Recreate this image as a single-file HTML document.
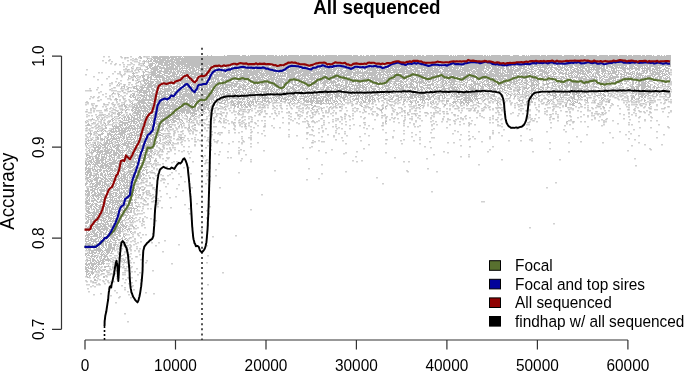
<!DOCTYPE html><html><head><meta charset="utf-8"><style>html,body{margin:0;padding:0;background:#fff}svg{display:block;will-change:transform}</style></head><body><svg width="685" height="371" viewBox="0 0 685 371"><rect width="685" height="371" fill="#fff"/><path transform="translate(0,0.5)" d="M207 55h1M211 55h1M224 55h1M227 55h13M242 55h4M248 55h1M250 55h16M267 55h7M275 55h2M279 55h1M281 55h2M284 55h3M288 55h11M300 55h12M313 55h4M318 55h3M322 55h2M325 55h12M338 55h14M353 55h5M360 55h2M363 55h1M366 55h3M370 55h5M376 55h17M394 55h1M396 55h8M405 55h8M414 55h2M417 55h4M422 55h2M426 55h7M434 55h15M450 55h2M453 55h1M455 55h1M457 55h7M465 55h18M484 55h2M487 55h1M489 55h1M491 55h10M502 55h8M513 55h6M522 55h3M526 55h1M528 55h1M530 55h10M541 55h5M547 55h15M564 55h10M575 55h4M580 55h4M586 55h11M599 55h9M609 55h9M619 55h8M628 55h4M633 55h8M642 55h3M646 55h6M653 55h1M657 55h3M661 55h1M664 55h1M666 55h5M139 56h2M153 56h5M159 56h10M170 56h12M183 56h488M125 57h1M140 57h2M152 57h25M178 57h3M182 57h1M184 57h487M140 58h2M147 58h2M151 58h1M153 58h8M162 58h8M171 58h3M175 58h496M147 59h1M151 59h2M154 59h2M157 59h9M167 59h2M170 59h501M146 60h1M148 60h1M150 60h2M153 60h5M159 60h14M174 60h6M181 60h490M144 61h2M148 61h4M153 61h11M165 61h10M176 61h495M144 62h1M148 62h1M152 62h1M155 62h15M171 62h500M143 63h2M150 63h5M156 63h1M158 63h5M164 63h4M169 63h5M175 63h11M187 63h484M143 64h1M149 64h4M155 64h1M158 64h5M164 64h11M176 64h495M144 65h1M148 65h5M155 65h1M157 65h2M161 65h9M171 65h5M177 65h3M181 65h2M184 65h24M209 65h3M213 65h8M222 65h1M224 65h1M226 65h45M272 65h27M300 65h13M315 65h13M329 65h23M353 65h30M384 65h23M408 65h30M439 65h8M448 65h4M453 65h56M510 65h15M526 65h7M534 65h19M554 65h2M557 65h3M562 65h1M564 65h9M574 65h10M585 65h20M606 65h5M612 65h15M629 65h5M635 65h13M649 65h22M147 66h1M149 66h3M154 66h7M163 66h1M166 66h2M169 66h5M175 66h6M182 66h8M191 66h9M201 66h8M210 66h12M223 66h6M230 66h1M232 66h1M234 66h12M247 66h22M271 66h11M283 66h12M296 66h20M317 66h6M324 66h37M362 66h22M385 66h1M387 66h21M409 66h7M417 66h23M441 66h1M445 66h8M454 66h8M464 66h21M486 66h4M491 66h14M506 66h6M513 66h3M518 66h9M528 66h1M530 66h8M539 66h2M542 66h6M549 66h1M551 66h2M557 66h4M562 66h1M564 66h4M569 66h4M575 66h4M580 66h10M592 66h8M601 66h4M606 66h7M614 66h4M619 66h1M621 66h3M625 66h2M629 66h6M637 66h6M644 66h1M646 66h2M649 66h9M659 66h1M662 66h2M665 66h1M668 66h3M131 67h1M146 67h2M149 67h2M152 67h6M159 67h6M166 67h8M175 67h3M179 67h1M181 67h2M184 67h1M186 67h8M195 67h5M201 67h3M206 67h13M220 67h4M226 67h4M231 67h3M235 67h4M240 67h5M246 67h7M254 67h46M301 67h7M310 67h2M313 67h3M318 67h3M322 67h7M330 67h1M332 67h3M336 67h21M358 67h6M365 67h5M371 67h1M373 67h8M382 67h7M390 67h3M394 67h6M401 67h10M412 67h21M434 67h2M437 67h22M460 67h25M486 67h5M492 67h5M498 67h6M506 67h3M510 67h4M515 67h3M519 67h3M523 67h4M528 67h1M530 67h4M537 67h10M548 67h9M558 67h7M566 67h1M568 67h6M577 67h8M587 67h15M603 67h2M606 67h2M609 67h5M615 67h11M627 67h1M629 67h4M634 67h3M638 67h3M642 67h1M644 67h2M647 67h4M654 67h8M665 67h3M136 68h1M140 68h1M147 68h2M150 68h8M159 68h19M179 68h9M189 68h6M196 68h1M198 68h17M216 68h4M221 68h2M224 68h22M247 68h17M265 68h10M276 68h10M287 68h2M290 68h10M301 68h8M310 68h8M319 68h13M333 68h15M349 68h9M359 68h5M365 68h16M383 68h4M388 68h6M395 68h2M398 68h1M400 68h7M408 68h4M414 68h9M424 68h14M439 68h4M444 68h8M453 68h6M460 68h1M462 68h7M470 68h7M478 68h9M488 68h3M492 68h7M500 68h5M506 68h3M510 68h2M513 68h2M517 68h8M527 68h3M531 68h2M534 68h1M536 68h1M538 68h1M540 68h1M544 68h5M550 68h2M554 68h4M560 68h3M564 68h2M567 68h1M570 68h2M574 68h4M579 68h2M582 68h5M588 68h2M591 68h1M593 68h2M596 68h9M606 68h2M611 68h6M618 68h1M620 68h20M641 68h10M652 68h2M655 68h6M664 68h1M666 68h4M139 69h2M146 69h2M151 69h8M161 69h1M164 69h14M179 69h2M182 69h1M186 69h1M188 69h3M192 69h3M196 69h3M200 69h4M205 69h2M208 69h3M212 69h3M216 69h7M224 69h13M238 69h4M244 69h5M250 69h5M256 69h11M268 69h8M277 69h7M285 69h14M300 69h3M304 69h16M321 69h4M326 69h11M338 69h1M340 69h3M346 69h5M352 69h7M361 69h2M364 69h2M367 69h9M377 69h1M379 69h12M392 69h16M410 69h8M421 69h5M427 69h6M434 69h6M442 69h6M449 69h7M457 69h1M459 69h14M475 69h9M486 69h3M491 69h10M502 69h2M506 69h8M515 69h6M523 69h4M529 69h5M537 69h6M544 69h2M547 69h1M550 69h3M555 69h7M564 69h5M570 69h1M572 69h3M576 69h3M580 69h3M585 69h2M588 69h12M601 69h5M611 69h1M613 69h2M616 69h1M622 69h4M627 69h3M631 69h2M635 69h5M642 69h1M644 69h1M646 69h5M652 69h6M659 69h1M662 69h4M668 69h1M127 70h1M138 70h1M145 70h1M153 70h5M159 70h3M164 70h5M170 70h2M173 70h1M175 70h1M177 70h3M181 70h7M189 70h2M192 70h5M198 70h16M215 70h9M225 70h6M232 70h20M253 70h10M264 70h9M274 70h23M298 70h19M318 70h1M320 70h3M324 70h8M333 70h3M337 70h5M345 70h7M353 70h3M357 70h2M360 70h1M362 70h1M366 70h19M386 70h19M406 70h8M415 70h5M421 70h18M440 70h1M443 70h18M462 70h10M473 70h2M476 70h8M485 70h1M487 70h2M490 70h3M494 70h7M502 70h4M507 70h14M525 70h4M531 70h1M534 70h3M539 70h6M546 70h1M548 70h2M551 70h1M556 70h1M558 70h2M561 70h3M565 70h4M570 70h2M573 70h3M577 70h7M585 70h5M591 70h1M593 70h1M595 70h4M601 70h7M611 70h4M616 70h4M621 70h1M623 70h3M629 70h2M635 70h2M638 70h2M642 70h6M649 70h4M654 70h1M656 70h6M663 70h1M665 70h4M132 71h1M143 71h1M145 71h2M151 71h5M157 71h15M173 71h2M176 71h6M183 71h1M185 71h4M190 71h6M198 71h1M200 71h16M217 71h5M223 71h1M226 71h5M232 71h2M235 71h4M240 71h20M261 71h2M264 71h20M286 71h8M295 71h20M316 71h19M337 71h2M340 71h3M345 71h8M355 71h6M362 71h1M364 71h4M369 71h1M372 71h5M379 71h1M381 71h10M393 71h5M399 71h13M413 71h7M421 71h1M424 71h1M426 71h5M432 71h9M442 71h21M464 71h6M471 71h11M483 71h4M489 71h10M500 71h1M502 71h1M504 71h2M507 71h6M514 71h5M520 71h1M522 71h1M524 71h3M529 71h5M535 71h1M538 71h9M548 71h1M550 71h1M554 71h1M557 71h2M560 71h1M563 71h1M566 71h1M569 71h1M571 71h8M580 71h5M586 71h5M592 71h1M596 71h4M601 71h5M607 71h4M612 71h5M618 71h1M622 71h1M624 71h2M629 71h1M632 71h3M637 71h1M642 71h3M646 71h2M649 71h2M652 71h4M657 71h1M659 71h5M665 71h4M133 72h1M143 72h2M150 72h6M157 72h4M163 72h5M169 72h7M177 72h2M180 72h14M195 72h4M201 72h4M206 72h1M208 72h14M223 72h3M227 72h10M238 72h2M241 72h1M243 72h19M263 72h1M265 72h9M275 72h2M278 72h8M287 72h15M303 72h8M313 72h12M326 72h8M336 72h4M341 72h5M347 72h37M385 72h20M406 72h7M414 72h2M417 72h26M444 72h2M447 72h2M451 72h9M461 72h5M467 72h1M469 72h2M472 72h4M477 72h6M484 72h2M488 72h4M494 72h7M502 72h2M505 72h8M514 72h2M519 72h1M521 72h9M531 72h2M534 72h1M537 72h2M542 72h8M553 72h3M558 72h5M565 72h2M568 72h1M570 72h4M575 72h6M582 72h2M585 72h1M587 72h5M596 72h4M602 72h2M605 72h1M608 72h1M610 72h1M612 72h5M618 72h2M623 72h6M630 72h3M634 72h1M636 72h2M639 72h1M643 72h2M646 72h2M650 72h1M652 72h9M662 72h1M665 72h1M668 72h2M132 73h3M143 73h1M151 73h6M159 73h3M164 73h7M172 73h4M177 73h2M180 73h1M182 73h28M211 73h1M213 73h1M216 73h2M219 73h6M226 73h4M231 73h4M236 73h2M240 73h8M249 73h9M259 73h20M280 73h10M291 73h10M302 73h33M336 73h3M340 73h5M346 73h6M353 73h24M378 73h3M383 73h2M386 73h2M389 73h1M391 73h1M394 73h1M396 73h3M402 73h12M415 73h1M417 73h3M422 73h1M424 73h10M435 73h3M440 73h8M449 73h17M467 73h3M471 73h17M489 73h5M495 73h10M507 73h1M509 73h8M518 73h13M532 73h4M538 73h1M540 73h3M544 73h5M552 73h2M555 73h2M559 73h8M568 73h5M574 73h1M577 73h9M587 73h2M591 73h1M593 73h1M595 73h4M601 73h2M604 73h2M608 73h8M618 73h1M620 73h2M624 73h1M626 73h5M632 73h3M636 73h8M645 73h2M650 73h4M655 73h5M661 73h4M666 73h1M668 73h2M133 74h1M143 74h1M147 74h1M150 74h6M157 74h3M162 74h3M168 74h2M172 74h6M179 74h1M181 74h2M184 74h1M186 74h4M191 74h11M203 74h5M209 74h3M213 74h15M229 74h3M234 74h1M236 74h6M243 74h16M260 74h5M266 74h10M277 74h2M280 74h1M282 74h1M284 74h2M287 74h9M298 74h1M300 74h9M310 74h13M325 74h5M331 74h2M334 74h3M338 74h4M343 74h9M353 74h3M357 74h2M362 74h3M366 74h1M368 74h8M377 74h9M387 74h4M392 74h5M398 74h1M400 74h5M408 74h5M415 74h13M429 74h6M436 74h2M439 74h1M442 74h33M476 74h9M486 74h13M500 74h3M504 74h10M516 74h1M519 74h2M522 74h3M526 74h2M530 74h3M534 74h2M539 74h4M544 74h1M546 74h2M553 74h3M559 74h1M562 74h2M565 74h4M571 74h1M573 74h1M575 74h1M577 74h2M580 74h1M582 74h5M592 74h2M595 74h1M597 74h3M602 74h1M604 74h1M608 74h2M611 74h1M615 74h4M620 74h5M626 74h1M628 74h5M634 74h1M636 74h6M651 74h10M662 74h1M664 74h4M669 74h1M134 75h1M141 75h4M148 75h1M151 75h12M164 75h4M170 75h5M176 75h1M179 75h5M186 75h2M190 75h2M194 75h4M200 75h6M207 75h6M214 75h13M228 75h1M230 75h9M240 75h14M255 75h3M259 75h9M269 75h7M277 75h9M287 75h8M297 75h19M317 75h2M320 75h6M327 75h9M338 75h13M353 75h5M359 75h7M367 75h11M379 75h3M383 75h1M385 75h4M390 75h6M397 75h1M399 75h5M405 75h2M408 75h6M416 75h1M419 75h12M432 75h7M440 75h12M453 75h14M468 75h2M471 75h5M477 75h35M513 75h5M521 75h7M530 75h1M532 75h3M536 75h7M545 75h1M547 75h4M553 75h1M565 75h1M568 75h5M574 75h1M576 75h2M579 75h1M584 75h1M586 75h2M589 75h1M592 75h2M595 75h1M598 75h3M603 75h3M610 75h3M616 75h2M621 75h1M624 75h3M631 75h1M633 75h1M635 75h2M638 75h6M645 75h1M647 75h6M654 75h2M658 75h2M662 75h4M668 75h1M129 76h1M133 76h3M140 76h1M142 76h3M147 76h2M150 76h2M153 76h1M155 76h9M166 76h14M182 76h14M198 76h10M209 76h4M214 76h16M231 76h4M236 76h2M239 76h11M252 76h3M256 76h4M261 76h3M265 76h2M268 76h4M273 76h2M276 76h10M287 76h8M296 76h5M302 76h4M307 76h2M310 76h3M314 76h1M316 76h1M318 76h5M324 76h7M332 76h3M336 76h1M338 76h3M343 76h2M346 76h1M350 76h4M355 76h1M357 76h2M360 76h4M365 76h1M367 76h2M371 76h2M374 76h4M379 76h2M382 76h2M387 76h5M393 76h7M401 76h6M408 76h1M410 76h3M416 76h8M425 76h3M429 76h12M442 76h3M446 76h2M449 76h7M457 76h4M463 76h3M467 76h1M470 76h2M473 76h1M475 76h1M478 76h34M513 76h1M515 76h7M525 76h2M528 76h1M530 76h3M534 76h2M537 76h2M541 76h8M550 76h7M560 76h4M565 76h2M568 76h2M571 76h2M574 76h4M579 76h1M581 76h5M587 76h2M590 76h7M599 76h1M601 76h4M606 76h1M609 76h2M612 76h7M620 76h5M627 76h5M633 76h2M636 76h3M640 76h1M642 76h1M644 76h7M652 76h3M657 76h6M666 76h2M669 76h1M128 77h1M135 77h1M142 77h2M147 77h5M154 77h11M166 77h4M171 77h1M173 77h2M176 77h5M182 77h2M185 77h1M187 77h23M211 77h6M218 77h1M222 77h16M239 77h4M244 77h6M251 77h14M267 77h2M270 77h8M279 77h1M281 77h1M286 77h11M298 77h2M301 77h2M304 77h2M308 77h8M317 77h2M320 77h1M322 77h1M324 77h2M327 77h10M338 77h6M345 77h2M348 77h8M358 77h3M362 77h3M366 77h12M379 77h2M382 77h7M391 77h1M393 77h8M403 77h2M408 77h1M411 77h3M416 77h6M423 77h4M428 77h5M434 77h5M440 77h3M444 77h1M446 77h3M451 77h4M456 77h2M460 77h27M488 77h4M493 77h1M495 77h1M497 77h4M502 77h2M507 77h6M514 77h7M523 77h1M528 77h2M531 77h6M542 77h3M546 77h3M551 77h2M554 77h1M556 77h1M559 77h1M561 77h4M566 77h1M569 77h14M585 77h2M588 77h2M591 77h1M594 77h4M599 77h3M604 77h4M609 77h10M620 77h2M623 77h6M630 77h4M635 77h6M642 77h4M647 77h1M649 77h2M653 77h1M655 77h3M659 77h3M663 77h1M665 77h1M667 77h3M128 78h1M136 78h1M143 78h2M147 78h2M150 78h2M156 78h1M159 78h1M162 78h5M168 78h3M172 78h1M174 78h8M183 78h5M189 78h6M196 78h13M210 78h9M221 78h2M224 78h1M226 78h1M228 78h5M234 78h4M240 78h6M247 78h2M250 78h6M257 78h4M262 78h1M264 78h3M268 78h7M276 78h9M286 78h2M289 78h3M293 78h15M309 78h11M321 78h2M324 78h2M327 78h14M343 78h7M351 78h2M354 78h1M356 78h1M358 78h1M360 78h9M370 78h15M386 78h8M395 78h12M408 78h3M412 78h1M414 78h2M417 78h1M419 78h8M428 78h4M433 78h1M436 78h1M438 78h1M440 78h5M446 78h5M452 78h7M460 78h9M470 78h1M472 78h2M476 78h4M482 78h4M488 78h2M491 78h6M498 78h8M507 78h4M514 78h1M519 78h1M521 78h6M529 78h1M531 78h5M542 78h2M547 78h1M551 78h1M553 78h9M563 78h5M570 78h1M572 78h1M576 78h1M578 78h9M589 78h6M596 78h1M599 78h2M602 78h2M608 78h8M620 78h3M626 78h1M630 78h3M634 78h18M653 78h1M655 78h3M659 78h3M664 78h4M669 78h2M132 79h2M137 79h1M143 79h5M150 79h8M159 79h2M162 79h3M166 79h20M187 79h1M189 79h1M191 79h3M196 79h2M199 79h2M202 79h2M205 79h1M207 79h7M215 79h4M220 79h4M225 79h5M231 79h6M238 79h6M245 79h2M248 79h3M253 79h11M266 79h11M278 79h13M292 79h1M294 79h1M296 79h7M304 79h1M306 79h9M316 79h9M326 79h1M328 79h4M335 79h4M340 79h2M343 79h4M348 79h21M370 79h1M372 79h11M384 79h3M388 79h1M390 79h10M402 79h3M406 79h3M410 79h6M417 79h1M419 79h4M425 79h2M428 79h6M435 79h2M438 79h1M440 79h4M446 79h1M448 79h7M457 79h1M460 79h1M462 79h6M469 79h3M473 79h1M476 79h3M482 79h2M486 79h3M492 79h11M504 79h3M508 79h4M513 79h4M518 79h3M522 79h1M525 79h2M529 79h3M533 79h3M537 79h1M541 79h2M544 79h1M547 79h1M553 79h4M560 79h3M566 79h2M571 79h1M573 79h2M578 79h4M583 79h11M596 79h2M599 79h1M601 79h2M604 79h8M613 79h1M615 79h1M617 79h5M624 79h2M627 79h1M629 79h1M631 79h1M633 79h4M638 79h1M640 79h4M646 79h5M653 79h2M657 79h3M665 79h2M669 79h2M132 80h2M137 80h1M143 80h6M150 80h1M154 80h1M157 80h2M160 80h1M162 80h7M170 80h5M176 80h18M195 80h9M205 80h3M209 80h1M211 80h1M213 80h1M215 80h1M217 80h3M221 80h8M230 80h2M234 80h1M238 80h7M248 80h10M259 80h11M271 80h3M275 80h8M284 80h5M290 80h3M294 80h3M298 80h1M300 80h2M303 80h6M311 80h2M314 80h4M320 80h3M324 80h4M329 80h3M333 80h2M337 80h4M342 80h16M359 80h5M365 80h4M370 80h4M375 80h17M395 80h4M400 80h2M403 80h1M406 80h2M410 80h4M416 80h2M419 80h1M421 80h3M425 80h4M430 80h1M432 80h4M438 80h3M442 80h4M447 80h1M449 80h7M459 80h2M462 80h2M465 80h1M467 80h3M471 80h3M476 80h1M478 80h1M482 80h1M484 80h5M492 80h4M497 80h1M499 80h3M503 80h6M510 80h1M513 80h2M516 80h4M521 80h2M525 80h3M530 80h9M543 80h1M545 80h5M552 80h1M555 80h2M558 80h4M564 80h1M566 80h2M569 80h1M571 80h3M575 80h3M579 80h2M582 80h9M592 80h6M601 80h2M605 80h5M612 80h4M617 80h6M624 80h2M627 80h3M631 80h3M636 80h5M643 80h3M649 80h3M653 80h1M657 80h2M664 80h3M670 80h1M138 81h3M143 81h2M146 81h1M148 81h6M155 81h6M163 81h10M174 81h5M180 81h11M192 81h3M196 81h12M211 81h5M217 81h3M222 81h2M225 81h2M230 81h1M233 81h1M235 81h7M243 81h3M248 81h1M250 81h13M265 81h1M267 81h7M275 81h9M285 81h2M288 81h5M294 81h2M299 81h3M303 81h3M307 81h5M313 81h2M316 81h3M320 81h2M323 81h6M330 81h6M337 81h2M340 81h1M342 81h1M345 81h3M349 81h2M352 81h4M358 81h1M361 81h3M365 81h3M370 81h7M378 81h7M386 81h6M394 81h9M404 81h3M411 81h6M418 81h6M425 81h1M427 81h4M432 81h2M436 81h3M441 81h3M445 81h2M448 81h2M451 81h6M459 81h1M461 81h1M463 81h2M467 81h1M471 81h5M477 81h1M483 81h2M486 81h3M491 81h8M500 81h5M507 81h1M509 81h3M513 81h5M521 81h2M526 81h2M531 81h1M533 81h2M536 81h3M546 81h1M548 81h1M553 81h2M557 81h1M559 81h1M563 81h3M567 81h2M570 81h1M572 81h1M574 81h1M577 81h5M583 81h3M587 81h1M589 81h3M593 81h3M600 81h2M603 81h8M613 81h1M615 81h1M617 81h1M621 81h1M624 81h5M632 81h2M636 81h1M638 81h6M645 81h2M648 81h5M657 81h1M663 81h1M666 81h2M137 82h2M140 82h1M144 82h2M147 82h2M150 82h4M156 82h6M163 82h8M172 82h8M181 82h15M197 82h18M216 82h2M219 82h1M223 82h1M225 82h1M229 82h5M236 82h2M242 82h1M244 82h3M248 82h1M250 82h2M253 82h2M256 82h3M260 82h1M262 82h1M264 82h3M268 82h1M270 82h5M276 82h11M289 82h4M294 82h2M298 82h2M303 82h14M318 82h1M320 82h1M322 82h6M329 82h8M341 82h1M345 82h3M349 82h5M355 82h1M357 82h4M362 82h1M364 82h1M366 82h1M368 82h3M373 82h5M379 82h2M382 82h1M384 82h2M387 82h4M394 82h2M400 82h4M405 82h1M410 82h2M413 82h1M415 82h10M426 82h1M428 82h2M432 82h1M434 82h2M437 82h1M442 82h2M445 82h2M448 82h7M460 82h3M465 82h3M473 82h3M477 82h1M481 82h3M486 82h1M488 82h2M492 82h3M497 82h4M503 82h4M509 82h6M516 82h1M518 82h1M521 82h1M523 82h4M528 82h1M531 82h3M535 82h1M537 82h2M546 82h1M549 82h1M552 82h4M558 82h1M560 82h2M564 82h4M569 82h10M581 82h1M584 82h2M587 82h3M593 82h2M596 82h1M599 82h3M603 82h4M609 82h1M614 82h3M621 82h1M626 82h1M632 82h2M635 82h2M638 82h2M641 82h5M647 82h2M653 82h2M661 82h2M665 82h2M118 83h1M144 83h9M155 83h28M184 83h1M186 83h5M192 83h2M195 83h6M202 83h6M209 83h2M212 83h8M221 83h5M231 83h8M243 83h1M247 83h3M253 83h1M255 83h5M261 83h6M268 83h4M273 83h6M280 83h2M283 83h7M291 83h2M295 83h1M297 83h2M300 83h2M304 83h6M311 83h1M313 83h6M321 83h5M327 83h3M331 83h3M335 83h1M338 83h2M345 83h3M349 83h1M351 83h1M357 83h3M362 83h2M367 83h3M372 83h2M376 83h2M379 83h2M382 83h6M389 83h3M393 83h4M398 83h3M403 83h1M406 83h1M410 83h3M416 83h2M419 83h3M423 83h4M431 83h3M436 83h1M442 83h1M444 83h4M450 83h2M453 83h2M463 83h2M466 83h1M471 83h1M473 83h8M482 83h1M484 83h1M487 83h2M491 83h2M494 83h2M497 83h1M499 83h2M502 83h3M506 83h1M510 83h2M513 83h5M519 83h1M522 83h1M524 83h4M531 83h3M536 83h1M538 83h2M543 83h1M546 83h4M552 83h1M554 83h1M557 83h1M561 83h2M565 83h3M569 83h3M573 83h6M583 83h7M592 83h4M597 83h1M599 83h2M604 83h3M609 83h2M615 83h1M620 83h3M625 83h2M632 83h2M635 83h1M638 83h2M641 83h6M648 83h2M654 83h1M659 83h1M662 83h1M117 84h1M119 84h1M145 84h2M148 84h4M153 84h3M157 84h6M164 84h2M167 84h2M170 84h1M172 84h3M177 84h4M184 84h3M188 84h2M191 84h11M203 84h7M211 84h6M218 84h3M222 84h11M234 84h4M239 84h1M243 84h2M246 84h3M251 84h1M253 84h3M257 84h1M259 84h4M264 84h5M271 84h2M274 84h8M283 84h4M288 84h1M292 84h5M299 84h4M304 84h1M307 84h5M313 84h6M323 84h3M331 84h1M333 84h1M335 84h5M341 84h2M345 84h2M348 84h6M355 84h1M358 84h3M362 84h1M364 84h4M369 84h1M372 84h1M376 84h3M381 84h1M384 84h1M386 84h1M388 84h2M394 84h1M396 84h3M400 84h3M404 84h4M409 84h5M417 84h1M419 84h1M422 84h1M425 84h1M427 84h7M437 84h1M442 84h3M446 84h1M450 84h7M459 84h6M466 84h1M469 84h4M474 84h6M482 84h9M492 84h5M498 84h1M500 84h2M503 84h3M507 84h4M514 84h2M519 84h3M526 84h3M531 84h8M543 84h6M552 84h1M554 84h3M561 84h4M566 84h6M573 84h6M580 84h1M584 84h2M587 84h1M589 84h1M593 84h2M596 84h1M600 84h1M604 84h1M610 84h1M620 84h1M622 84h1M632 84h2M637 84h9M647 84h1M650 84h1M658 84h1M662 84h2M124 85h1M136 85h1M142 85h4M147 85h14M162 85h10M176 85h2M179 85h2M184 85h6M191 85h1M193 85h9M203 85h5M209 85h5M215 85h1M218 85h1M220 85h4M225 85h12M239 85h2M242 85h4M247 85h1M250 85h4M255 85h2M258 85h2M261 85h3M265 85h4M271 85h3M275 85h7M284 85h1M286 85h1M288 85h1M293 85h8M302 85h3M307 85h5M313 85h1M316 85h3M324 85h3M329 85h2M332 85h10M343 85h4M348 85h1M352 85h12M365 85h1M368 85h1M370 85h2M375 85h2M378 85h1M384 85h6M394 85h3M398 85h4M403 85h2M406 85h2M410 85h2M413 85h1M416 85h2M419 85h1M423 85h8M432 85h2M437 85h1M442 85h2M445 85h1M450 85h1M452 85h2M457 85h1M460 85h1M462 85h2M465 85h2M470 85h2M473 85h3M478 85h3M482 85h1M484 85h2M487 85h3M491 85h6M498 85h4M504 85h7M518 85h1M526 85h1M529 85h6M536 85h3M544 85h1M547 85h1M552 85h2M555 85h1M559 85h2M562 85h1M564 85h8M573 85h8M583 85h1M585 85h3M593 85h1M609 85h1M621 85h1M632 85h1M638 85h8M647 85h2M650 85h1M654 85h1M657 85h1M662 85h1M665 85h1M123 86h2M134 86h3M140 86h3M144 86h1M147 86h6M154 86h3M159 86h8M168 86h4M173 86h7M182 86h4M187 86h2M190 86h3M194 86h6M201 86h7M209 86h7M217 86h1M219 86h2M222 86h2M225 86h3M229 86h3M233 86h4M238 86h4M243 86h4M248 86h2M251 86h2M254 86h1M256 86h3M265 86h4M270 86h1M272 86h1M274 86h4M280 86h5M287 86h4M292 86h2M297 86h3M301 86h2M307 86h1M309 86h1M311 86h6M318 86h1M323 86h2M327 86h2M330 86h1M333 86h1M335 86h3M340 86h4M345 86h5M351 86h2M354 86h1M356 86h2M359 86h2M362 86h3M366 86h2M370 86h3M375 86h4M382 86h1M384 86h5M390 86h2M393 86h1M395 86h1M398 86h1M400 86h4M405 86h3M409 86h4M414 86h1M416 86h2M419 86h4M427 86h1M430 86h1M434 86h3M438 86h1M441 86h4M450 86h3M454 86h2M457 86h1M459 86h2M464 86h3M468 86h2M471 86h3M475 86h1M480 86h4M485 86h2M488 86h5M494 86h1M497 86h2M500 86h1M502 86h3M507 86h1M509 86h1M511 86h1M517 86h1M519 86h1M526 86h1M530 86h3M534 86h1M536 86h1M538 86h1M547 86h2M553 86h2M558 86h2M561 86h2M564 86h5M570 86h5M576 86h3M584 86h4M593 86h4M601 86h2M604 86h1M630 86h4M635 86h5M641 86h10M653 86h3M658 86h1M667 86h3M121 87h1M124 87h1M128 87h2M133 87h2M136 87h1M140 87h12M154 87h6M162 87h1M164 87h1M168 87h2M171 87h4M176 87h2M179 87h1M181 87h3M185 87h12M199 87h9M209 87h6M216 87h4M221 87h9M231 87h2M234 87h1M237 87h7M245 87h1M249 87h4M254 87h4M259 87h1M264 87h4M269 87h2M272 87h2M276 87h2M279 87h2M282 87h3M286 87h2M290 87h4M295 87h2M298 87h1M300 87h4M305 87h1M307 87h2M311 87h1M313 87h6M324 87h1M326 87h6M333 87h1M336 87h5M343 87h5M349 87h2M354 87h1M356 87h11M370 87h2M377 87h3M381 87h3M385 87h1M388 87h3M392 87h2M395 87h5M401 87h3M407 87h11M420 87h4M426 87h5M433 87h2M436 87h6M443 87h2M448 87h11M460 87h2M464 87h1M466 87h2M469 87h5M475 87h1M481 87h3M487 87h1M489 87h1M491 87h3M497 87h1M500 87h2M504 87h2M507 87h4M519 87h2M523 87h4M528 87h2M531 87h1M533 87h3M538 87h1M540 87h4M547 87h3M552 87h1M558 87h2M561 87h2M565 87h3M570 87h9M587 87h2M595 87h4M601 87h1M603 87h3M617 87h1M619 87h1M626 87h3M631 87h4M636 87h3M641 87h5M648 87h3M653 87h2M656 87h4M668 87h1M670 87h1M127 88h2M133 88h5M139 88h1M141 88h3M146 88h3M151 88h3M156 88h7M164 88h7M172 88h5M178 88h1M180 88h2M183 88h4M188 88h4M193 88h4M198 88h2M201 88h2M204 88h2M207 88h4M213 88h13M227 88h1M231 88h2M238 88h2M242 88h4M247 88h4M252 88h3M256 88h4M262 88h1M264 88h6M271 88h2M274 88h1M278 88h4M283 88h1M285 88h3M289 88h6M296 88h1M300 88h8M309 88h1M311 88h3M315 88h3M320 88h1M323 88h1M326 88h3M331 88h3M335 88h1M337 88h1M339 88h1M341 88h6M349 88h3M354 88h6M362 88h2M365 88h2M371 88h5M379 88h2M382 88h1M385 88h5M392 88h1M394 88h1M396 88h1M398 88h6M409 88h1M412 88h4M417 88h2M421 88h1M423 88h2M427 88h5M433 88h1M436 88h2M442 88h8M451 88h4M456 88h1M458 88h2M462 88h1M464 88h1M467 88h1M469 88h7M478 88h1M480 88h4M488 88h4M493 88h3M497 88h6M504 88h1M507 88h2M510 88h2M519 88h1M524 88h5M531 88h4M536 88h4M542 88h2M547 88h1M551 88h2M555 88h2M559 88h2M562 88h2M566 88h1M570 88h1M572 88h11M586 88h2M598 88h1M604 88h2M613 88h1M616 88h4M627 88h1M631 88h4M636 88h3M641 88h4M646 88h2M650 88h1M654 88h1M656 88h2M667 88h1M669 88h2M110 89h1M136 89h3M140 89h3M146 89h4M151 89h4M156 89h3M160 89h1M162 89h10M173 89h2M176 89h21M198 89h2M201 89h1M204 89h7M213 89h1M215 89h4M220 89h2M223 89h7M231 89h1M233 89h8M242 89h6M250 89h2M254 89h3M258 89h1M262 89h5M268 89h4M273 89h2M276 89h4M281 89h2M284 89h1M286 89h4M292 89h4M298 89h3M302 89h3M306 89h1M308 89h5M316 89h3M321 89h3M325 89h5M331 89h1M334 89h4M339 89h6M346 89h2M349 89h2M352 89h1M354 89h3M358 89h3M363 89h4M369 89h1M372 89h4M378 89h2M381 89h1M384 89h1M386 89h5M395 89h3M399 89h5M410 89h1M412 89h1M414 89h2M417 89h2M420 89h3M424 89h1M426 89h1M429 89h1M431 89h2M434 89h2M437 89h1M439 89h1M441 89h5M448 89h2M452 89h6M459 89h1M463 89h1M465 89h1M468 89h11M480 89h2M489 89h2M492 89h4M497 89h1M499 89h1M502 89h3M509 89h3M517 89h4M524 89h1M527 89h1M531 89h3M535 89h1M538 89h4M543 89h1M546 89h1M555 89h3M561 89h2M567 89h1M570 89h1M572 89h5M578 89h4M583 89h6M591 89h1M593 89h1M603 89h2M617 89h2M628 89h1M632 89h1M634 89h1M636 89h1M638 89h1M641 89h3M645 89h7M653 89h1M656 89h1M663 89h1M666 89h1M130 90h1M137 90h10M148 90h2M152 90h4M158 90h1M160 90h2M164 90h8M173 90h1M176 90h7M185 90h8M194 90h5M200 90h2M203 90h15M220 90h2M223 90h1M225 90h2M228 90h2M232 90h1M234 90h4M239 90h1M243 90h1M245 90h2M250 90h3M255 90h2M258 90h2M265 90h1M267 90h2M270 90h3M274 90h1M276 90h2M279 90h1M281 90h3M287 90h3M291 90h1M293 90h7M302 90h4M307 90h1M310 90h1M312 90h4M321 90h7M330 90h2M333 90h2M336 90h3M341 90h1M344 90h3M348 90h4M354 90h6M365 90h2M368 90h2M371 90h1M373 90h2M376 90h1M379 90h1M385 90h5M393 90h1M396 90h1M400 90h3M409 90h2M413 90h1M417 90h3M421 90h2M425 90h1M427 90h1M430 90h1M432 90h11M444 90h3M449 90h5M456 90h4M464 90h1M466 90h1M468 90h1M470 90h3M476 90h6M485 90h1M490 90h2M493 90h4M499 90h2M502 90h1M504 90h2M513 90h2M517 90h3M522 90h1M531 90h5M538 90h1M542 90h1M549 90h1M554 90h4M561 90h2M568 90h7M576 90h6M584 90h5M591 90h3M599 90h1M604 90h1M618 90h2M629 90h2M635 90h13M649 90h2M664 90h2M122 91h1M129 91h3M136 91h2M139 91h3M143 91h8M152 91h2M155 91h3M159 91h11M171 91h7M179 91h2M182 91h6M189 91h3M193 91h3M198 91h2M201 91h7M209 91h4M214 91h1M216 91h3M220 91h1M222 91h3M227 91h1M229 91h1M232 91h2M235 91h2M238 91h5M246 91h1M248 91h1M251 91h1M253 91h5M259 91h10M270 91h4M275 91h2M278 91h1M281 91h2M284 91h1M286 91h5M292 91h5M299 91h1M301 91h1M304 91h6M311 91h2M314 91h1M316 91h6M324 91h4M329 91h5M335 91h4M340 91h2M343 91h3M348 91h3M352 91h1M354 91h1M356 91h2M359 91h1M365 91h3M369 91h8M383 91h2M386 91h1M390 91h1M392 91h4M402 91h1M406 91h1M409 91h2M414 91h2M421 91h3M426 91h2M431 91h2M435 91h4M441 91h1M450 91h2M457 91h3M465 91h3M469 91h1M471 91h1M474 91h1M476 91h2M480 91h3M486 91h2M491 91h1M493 91h2M498 91h4M517 91h2M522 91h2M526 91h3M531 91h2M534 91h1M537 91h3M541 91h2M554 91h4M559 91h4M565 91h6M572 91h3M578 91h2M583 91h1M585 91h1M594 91h1M598 91h3M604 91h1M617 91h2M628 91h2M636 91h1M638 91h13M656 91h1M658 91h1M663 91h2M668 91h2M113 92h1M139 92h9M149 92h1M151 92h2M155 92h6M162 92h4M167 92h1M170 92h3M174 92h9M185 92h2M188 92h1M190 92h4M195 92h6M202 92h12M215 92h3M219 92h1M223 92h1M225 92h3M233 92h1M235 92h4M240 92h1M242 92h2M245 92h1M247 92h8M256 92h3M261 92h1M263 92h4M268 92h1M271 92h1M273 92h5M279 92h6M286 92h2M289 92h2M292 92h2M295 92h2M298 92h5M304 92h5M310 92h1M312 92h8M322 92h2M325 92h1M327 92h5M335 92h7M343 92h2M346 92h1M349 92h1M351 92h1M353 92h5M360 92h1M362 92h1M367 92h1M370 92h3M374 92h2M382 92h3M386 92h5M392 92h1M395 92h1M403 92h1M405 92h1M407 92h1M409 92h3M413 92h4M418 92h2M421 92h5M427 92h4M432 92h2M435 92h2M438 92h1M443 92h5M456 92h6M465 92h3M470 92h1M472 92h6M480 92h1M482 92h2M487 92h2M492 92h2M495 92h1M499 92h1M505 92h2M518 92h2M522 92h1M526 92h1M531 92h1M533 92h1M536 92h3M548 92h2M555 92h1M557 92h3M561 92h1M565 92h3M569 92h2M572 92h8M582 92h1M584 92h3M600 92h1M604 92h2M632 92h1M638 92h6M648 92h4M657 92h1M659 92h1M664 92h1M668 92h2M112 93h2M132 93h3M139 93h1M143 93h4M149 93h1M151 93h4M156 93h7M164 93h2M167 93h2M170 93h2M173 93h1M175 93h3M179 93h3M183 93h9M193 93h3M197 93h1M200 93h1M203 93h10M214 93h1M216 93h1M218 93h1M220 93h1M222 93h3M227 93h4M232 93h3M236 93h1M239 93h1M241 93h1M243 93h3M247 93h2M250 93h5M260 93h2M263 93h4M268 93h1M270 93h1M272 93h6M279 93h3M283 93h5M289 93h4M294 93h1M296 93h6M303 93h14M319 93h9M329 93h2M333 93h2M336 93h4M341 93h1M343 93h6M350 93h5M356 93h2M359 93h6M368 93h1M372 93h6M381 93h1M383 93h1M385 93h5M391 93h3M402 93h2M405 93h1M408 93h1M410 93h1M412 93h2M415 93h3M419 93h8M428 93h5M435 93h5M442 93h2M445 93h2M452 93h1M454 93h3M458 93h2M461 93h17M479 93h1M482 93h1M488 93h2M494 93h1M498 93h1M505 93h1M507 93h2M517 93h1M519 93h1M522 93h1M530 93h2M533 93h1M535 93h2M538 93h1M547 93h1M549 93h1M554 93h2M560 93h2M565 93h3M570 93h1M572 93h3M576 93h4M586 93h1M594 93h1M600 93h2M603 93h1M608 93h2M632 93h2M636 93h1M638 93h7M647 93h4M656 93h1M658 93h1M669 93h2M118 94h2M131 94h1M133 94h2M138 94h1M140 94h2M144 94h1M146 94h2M149 94h2M152 94h10M163 94h10M174 94h4M179 94h14M194 94h5M200 94h1M202 94h12M215 94h2M218 94h1M220 94h5M226 94h5M232 94h4M237 94h3M241 94h4M246 94h1M249 94h2M252 94h7M261 94h1M266 94h4M271 94h2M275 94h1M277 94h3M281 94h3M287 94h1M290 94h5M297 94h2M300 94h4M307 94h2M310 94h1M312 94h2M316 94h4M321 94h1M323 94h1M325 94h8M334 94h5M340 94h2M344 94h3M348 94h2M351 94h2M355 94h1M357 94h2M360 94h1M362 94h2M369 94h2M374 94h5M380 94h5M386 94h1M388 94h2M404 94h3M409 94h15M426 94h3M431 94h1M433 94h3M440 94h1M443 94h2M446 94h1M451 94h1M453 94h4M458 94h9M468 94h2M471 94h7M479 94h1M482 94h2M488 94h1M492 94h3M506 94h1M508 94h3M514 94h1M518 94h1M531 94h2M534 94h1M536 94h1M538 94h1M548 94h3M552 94h1M555 94h2M559 94h2M564 94h4M569 94h1M572 94h5M578 94h1M580 94h1M587 94h2M595 94h1M600 94h1M602 94h3M608 94h1M635 94h2M638 94h7M647 94h2M656 94h2M664 94h1M669 94h2M118 95h1M130 95h1M132 95h3M139 95h16M156 95h1M159 95h1M161 95h5M168 95h4M173 95h4M179 95h2M182 95h11M194 95h10M206 95h8M215 95h5M221 95h1M223 95h8M232 95h7M241 95h1M244 95h3M248 95h7M257 95h1M259 95h12M277 95h5M283 95h2M286 95h1M288 95h3M292 95h4M297 95h1M301 95h1M303 95h1M305 95h1M307 95h1M309 95h11M325 95h6M332 95h1M335 95h5M341 95h1M345 95h2M348 95h3M353 95h7M361 95h1M363 95h1M365 95h1M367 95h3M371 95h5M377 95h4M383 95h1M385 95h3M397 95h2M404 95h1M406 95h1M410 95h7M418 95h3M422 95h3M427 95h3M432 95h3M438 95h5M444 95h1M447 95h1M451 95h2M454 95h1M456 95h2M460 95h13M474 95h3M478 95h1M483 95h2M488 95h1M493 95h2M507 95h1M510 95h2M515 95h1M526 95h3M531 95h2M534 95h2M538 95h3M547 95h1M550 95h7M559 95h2M564 95h6M573 95h2M577 95h4M584 95h2M588 95h1M596 95h4M603 95h3M608 95h1M633 95h1M635 95h1M638 95h1M641 95h3M645 95h2M648 95h2M652 95h1M656 95h2M665 95h1M669 95h2M129 96h2M132 96h2M135 96h1M141 96h4M146 96h1M148 96h12M161 96h7M169 96h6M176 96h40M217 96h1M219 96h1M223 96h1M225 96h1M229 96h4M235 96h1M238 96h2M242 96h3M247 96h1M250 96h1M254 96h2M259 96h4M264 96h2M267 96h1M275 96h5M281 96h2M287 96h5M293 96h4M300 96h10M311 96h1M313 96h2M316 96h1M320 96h6M327 96h3M332 96h1M334 96h8M343 96h1M345 96h3M350 96h5M356 96h1M358 96h2M362 96h1M364 96h4M369 96h4M378 96h1M383 96h2M391 96h1M393 96h1M396 96h3M400 96h2M405 96h1M407 96h1M409 96h4M414 96h2M417 96h2M420 96h6M427 96h3M431 96h3M439 96h1M442 96h1M444 96h1M452 96h2M456 96h7M465 96h2M468 96h2M471 96h1M473 96h5M493 96h2M510 96h1M514 96h2M525 96h2M531 96h1M535 96h1M538 96h2M553 96h3M560 96h1M563 96h1M570 96h2M573 96h2M577 96h2M580 96h2M583 96h3M597 96h1M604 96h2M632 96h3M640 96h3M644 96h2M653 96h1M669 96h2M130 97h2M133 97h3M139 97h2M143 97h4M149 97h3M153 97h2M156 97h1M158 97h12M172 97h6M179 97h6M187 97h11M200 97h8M209 97h6M216 97h1M219 97h3M224 97h4M229 97h1M232 97h7M241 97h1M243 97h6M250 97h2M253 97h3M259 97h1M261 97h8M270 97h1M272 97h3M276 97h1M278 97h3M282 97h1M284 97h3M288 97h1M292 97h5M304 97h3M308 97h1M311 97h6M318 97h2M321 97h1M323 97h4M328 97h1M330 97h3M335 97h3M340 97h6M347 97h1M350 97h1M356 97h1M358 97h1M360 97h3M365 97h3M369 97h2M372 97h2M383 97h1M390 97h1M392 97h2M398 97h5M404 97h1M407 97h6M414 97h3M418 97h7M428 97h4M433 97h1M438 97h2M442 97h1M444 97h2M456 97h4M463 97h8M472 97h1M474 97h1M476 97h1M491 97h1M514 97h1M525 97h1M531 97h1M533 97h1M536 97h2M553 97h1M555 97h2M560 97h3M571 97h4M578 97h2M581 97h2M603 97h1M631 97h4M639 97h1M641 97h2M644 97h2M668 97h2M115 98h2M123 98h1M135 98h1M137 98h2M140 98h1M142 98h2M145 98h2M149 98h1M151 98h6M158 98h2M161 98h5M167 98h8M176 98h4M181 98h4M186 98h1M188 98h17M206 98h8M219 98h2M222 98h2M225 98h3M229 98h2M233 98h12M247 98h3M254 98h2M258 98h1M260 98h1M262 98h10M273 98h1M275 98h1M277 98h3M281 98h5M287 98h1M291 98h3M295 98h2M299 98h6M307 98h1M309 98h3M313 98h8M322 98h2M326 98h2M329 98h4M335 98h1M337 98h1M342 98h3M353 98h1M355 98h4M360 98h1M362 98h1M364 98h2M367 98h1M369 98h2M372 98h1M374 98h1M378 98h2M383 98h3M391 98h2M398 98h1M401 98h1M408 98h1M410 98h4M416 98h1M420 98h1M422 98h3M426 98h2M429 98h2M434 98h1M438 98h2M443 98h2M456 98h1M461 98h2M464 98h7M472 98h1M474 98h7M490 98h3M531 98h4M553 98h3M559 98h1M561 98h1M567 98h1M571 98h4M578 98h1M580 98h1M587 98h1M601 98h2M631 98h2M634 98h1M638 98h2M643 98h1M115 99h3M135 99h3M139 99h1M141 99h20M162 99h15M178 99h10M189 99h5M195 99h3M199 99h15M218 99h1M220 99h3M224 99h1M226 99h4M236 99h2M239 99h2M242 99h3M249 99h1M253 99h3M257 99h3M262 99h1M264 99h2M268 99h1M271 99h1M276 99h1M279 99h1M281 99h1M283 99h7M292 99h3M296 99h1M298 99h1M300 99h1M303 99h2M306 99h1M308 99h1M310 99h2M313 99h1M316 99h2M320 99h1M322 99h2M325 99h4M330 99h1M332 99h1M335 99h1M338 99h1M343 99h4M352 99h1M354 99h5M361 99h2M365 99h2M368 99h2M371 99h4M377 99h2M384 99h2M390 99h3M395 99h1M398 99h1M404 99h2M408 99h2M416 99h1M419 99h5M425 99h6M434 99h1M439 99h1M457 99h5M463 99h4M468 99h4M473 99h1M475 99h3M484 99h2M492 99h2M495 99h1M519 99h1M531 99h1M533 99h1M538 99h1M548 99h1M566 99h1M568 99h2M572 99h1M574 99h2M585 99h1M587 99h1M601 99h1M603 99h1M631 99h2M635 99h1M638 99h1M644 99h1M665 99h2M116 100h1M136 100h17M155 100h10M167 100h1M169 100h7M177 100h2M180 100h2M183 100h3M187 100h8M196 100h8M205 100h5M211 100h1M213 100h2M216 100h2M219 100h2M222 100h6M231 100h2M235 100h1M238 100h1M242 100h1M247 100h2M250 100h1M252 100h1M255 100h1M257 100h1M262 100h4M267 100h2M275 100h3M280 100h2M285 100h2M288 100h1M290 100h1M292 100h1M294 100h2M297 100h3M303 100h6M310 100h5M316 100h8M325 100h6M333 100h2M336 100h1M339 100h2M343 100h2M350 100h1M353 100h2M358 100h1M362 100h2M365 100h1M368 100h3M372 100h1M374 100h2M378 100h1M388 100h2M398 100h2M404 100h2M410 100h1M415 100h2M420 100h1M422 100h3M428 100h1M433 100h1M442 100h1M446 100h3M457 100h1M460 100h1M463 100h10M477 100h1M483 100h2M496 100h1M518 100h5M531 100h1M539 100h1M548 100h2M551 100h1M557 100h1M567 100h4M577 100h1M586 100h2M602 100h1M608 100h2M644 100h2M666 100h1M131 101h1M138 101h7M148 101h1M152 101h10M163 101h1M165 101h1M167 101h2M171 101h1M174 101h1M176 101h9M186 101h2M189 101h14M204 101h1M206 101h4M214 101h5M221 101h2M225 101h1M227 101h1M230 101h4M238 101h4M243 101h1M247 101h1M249 101h5M255 101h4M262 101h1M264 101h6M276 101h1M280 101h2M284 101h2M290 101h2M293 101h1M298 101h1M304 101h10M315 101h8M325 101h2M328 101h1M330 101h1M334 101h4M340 101h2M344 101h1M350 101h1M358 101h1M363 101h3M368 101h3M389 101h2M403 101h2M409 101h3M415 101h1M417 101h2M422 101h1M424 101h1M433 101h1M446 101h3M453 101h4M460 101h3M465 101h2M468 101h1M470 101h3M478 101h1M497 101h1M519 101h1M522 101h1M526 101h2M531 101h2M547 101h2M550 101h1M567 101h1M570 101h1M572 101h1M574 101h2M577 101h1M587 101h1M594 101h1M608 101h2M644 101h1M130 102h1M132 102h1M137 102h9M147 102h4M154 102h4M160 102h5M166 102h3M170 102h4M175 102h3M179 102h6M186 102h2M189 102h4M194 102h1M197 102h2M200 102h10M217 102h5M224 102h2M231 102h3M237 102h6M244 102h1M247 102h3M251 102h3M255 102h2M261 102h2M266 102h1M268 102h3M275 102h1M289 102h2M294 102h1M297 102h3M306 102h3M310 102h3M314 102h1M316 102h3M320 102h2M323 102h1M326 102h1M328 102h1M331 102h1M333 102h2M337 102h1M341 102h1M357 102h1M359 102h1M361 102h1M363 102h3M369 102h1M372 102h1M403 102h1M410 102h3M415 102h1M417 102h2M422 102h1M430 102h1M432 102h2M446 102h1M452 102h4M461 102h3M465 102h5M477 102h2M497 102h2M526 102h1M531 102h2M549 102h1M571 102h1M573 102h1M575 102h3M579 102h1M608 102h2M124 103h1M131 103h2M138 103h2M141 103h6M148 103h8M157 103h8M166 103h2M169 103h1M172 103h2M175 103h4M180 103h3M184 103h7M192 103h2M195 103h6M202 103h6M209 103h2M214 103h1M217 103h1M219 103h6M231 103h1M233 103h3M237 103h3M241 103h1M244 103h1M246 103h1M248 103h2M251 103h1M253 103h1M256 103h1M258 103h1M263 103h1M288 103h2M293 103h1M311 103h2M315 103h10M327 103h6M335 103h2M338 103h1M342 103h1M360 103h1M411 103h1M416 103h1M430 103h2M453 103h1M460 103h2M463 103h2M467 103h2M478 103h2M496 103h2M528 103h1M566 103h1M572 103h3M578 103h3M598 103h1M649 103h1M113 104h1M123 104h2M132 104h3M136 104h1M138 104h3M143 104h1M146 104h2M150 104h20M171 104h5M178 104h6M185 104h1M187 104h3M191 104h2M194 104h3M198 104h12M212 104h3M224 104h1M232 104h3M236 104h3M240 104h2M243 104h3M247 104h4M252 104h2M263 104h1M289 104h1M292 104h1M307 104h1M310 104h2M320 104h2M329 104h1M335 104h1M418 104h3M444 104h2M460 104h1M466 104h1M468 104h1M497 104h1M565 104h2M570 104h4M649 104h2M114 105h1M121 105h2M124 105h2M134 105h4M139 105h2M142 105h3M146 105h32M179 105h1M181 105h9M191 105h2M194 105h2M199 105h6M206 105h3M211 105h4M232 105h4M238 105h1M240 105h3M244 105h2M248 105h4M306 105h1M311 105h2M314 105h2M360 105h2M418 105h2M421 105h2M444 105h2M467 105h1M565 105h2M572 105h3M649 105h1M124 106h3M133 106h2M136 106h2M139 106h7M147 106h3M151 106h3M155 106h2M158 106h2M161 106h3M167 106h17M185 106h11M198 106h9M208 106h1M225 106h1M234 106h2M237 106h2M241 106h1M243 106h1M245 106h3M249 106h2M264 106h1M307 106h1M313 106h3M335 106h1M339 106h2M361 106h2M385 106h2M420 106h1M423 106h1M565 106h2M603 106h1M125 107h2M132 107h10M143 107h4M148 107h16M165 107h3M169 107h2M172 107h5M178 107h3M183 107h11M195 107h1M197 107h5M203 107h6M224 107h1M234 107h1M237 107h2M242 107h1M246 107h2M250 107h1M263 107h1M312 107h2M329 107h2M339 107h2M385 107h1M419 107h1M433 107h1M603 107h2M125 108h1M132 108h2M135 108h4M140 108h8M149 108h7M157 108h20M178 108h2M181 108h5M187 108h6M194 108h2M197 108h5M203 108h3M207 108h3M218 108h2M225 108h1M311 108h2M321 108h2M382 108h2M500 108h1M106 109h1M122 109h1M126 109h2M131 109h2M134 109h3M138 109h2M141 109h1M144 109h2M147 109h5M153 109h3M157 109h5M163 109h2M166 109h1M169 109h6M176 109h2M180 109h10M191 109h5M197 109h2M200 109h2M203 109h3M207 109h2M210 109h1M212 109h1M218 109h1M250 109h1M312 109h1M317 109h1M321 109h1M381 109h2M474 109h1M105 110h1M116 110h1M122 110h1M125 110h2M131 110h3M135 110h13M149 110h1M151 110h2M155 110h6M162 110h3M167 110h3M172 110h1M174 110h17M192 110h7M201 110h3M208 110h5M249 110h1M260 110h1M317 110h1M364 110h1M380 110h2M117 111h1M121 111h1M125 111h1M132 111h1M134 111h2M137 111h4M142 111h7M150 111h1M152 111h7M160 111h2M163 111h7M171 111h4M176 111h9M186 111h5M193 111h4M202 111h3M209 111h1M211 111h1M239 111h1M316 111h1M381 111h1M404 111h1M118 112h5M133 112h8M143 112h1M145 112h1M147 112h3M151 112h5M157 112h1M159 112h16M176 112h2M179 112h1M181 112h4M186 112h9M202 112h2M238 112h1M289 112h1M113 113h1M117 113h3M121 113h1M134 113h5M140 113h2M143 113h2M146 113h1M148 113h5M154 113h12M167 113h3M171 113h5M177 113h4M182 113h1M184 113h1M186 113h3M190 113h7M200 113h1M212 113h2M217 113h1M239 113h1M259 113h1M312 113h1M407 113h1M602 113h1M117 114h4M129 114h2M132 114h1M136 114h5M143 114h1M145 114h5M153 114h8M162 114h1M164 114h6M171 114h1M173 114h2M176 114h2M179 114h1M181 114h1M185 114h1M190 114h1M192 114h1M194 114h3M199 114h1M211 114h2M216 114h1M220 114h2M415 114h1M603 114h1M103 115h1M107 115h1M118 115h2M126 115h1M128 115h1M130 115h2M133 115h5M139 115h2M142 115h2M145 115h1M147 115h8M156 115h2M159 115h11M171 115h9M186 115h1M191 115h4M298 115h1M97 116h1M118 116h1M124 116h2M127 116h2M131 116h2M134 116h1M137 116h1M139 116h2M142 116h7M151 116h1M153 116h18M172 116h7M186 116h2M192 116h2M195 116h1M96 117h1M114 117h1M119 117h2M123 117h3M127 117h3M131 117h4M137 117h4M142 117h1M144 117h10M155 117h4M160 117h1M162 117h1M164 117h8M173 117h3M178 117h2M187 117h1M190 117h1M194 117h1M92 118h1M97 118h1M102 118h1M112 118h2M118 118h2M121 118h2M124 118h1M126 118h1M128 118h2M131 118h1M133 118h5M139 118h2M143 118h6M150 118h6M157 118h1M159 118h1M161 118h3M165 118h1M167 118h1M169 118h1M172 118h8M189 118h2M91 119h2M102 119h1M111 119h2M114 119h1M122 119h1M124 119h1M126 119h1M128 119h4M133 119h6M140 119h5M146 119h4M151 119h1M153 119h11M165 119h4M170 119h4M176 119h6M189 119h3M101 120h1M110 120h1M112 120h2M119 120h2M123 120h6M131 120h4M137 120h9M147 120h3M151 120h6M160 120h1M162 120h1M164 120h7M172 120h4M179 120h1M181 120h2M188 120h2M219 120h1M85 121h1M109 121h2M112 121h1M120 121h3M128 121h9M138 121h2M142 121h4M147 121h2M150 121h1M152 121h2M156 121h2M160 121h4M165 121h4M171 121h1M173 121h4M182 121h1M189 121h1M191 121h1M219 121h2M385 121h2M567 121h1M86 122h1M93 122h1M104 122h1M109 122h1M113 122h1M119 122h11M131 122h1M133 122h2M136 122h2M139 122h1M141 122h1M143 122h6M150 122h1M152 122h5M158 122h1M160 122h3M165 122h5M172 122h3M183 122h1M385 122h1M566 122h1M88 123h1M104 123h2M108 123h1M122 123h6M130 123h2M133 123h4M139 123h5M146 123h4M151 123h1M153 123h11M165 123h4M182 123h1M233 123h1M87 124h3M105 124h1M119 124h4M124 124h2M127 124h2M130 124h1M135 124h1M137 124h2M140 124h15M156 124h5M162 124h4M167 124h1M169 124h2M180 124h2M194 124h2M469 124h1M86 125h4M106 125h1M112 125h1M114 125h1M116 125h1M119 125h4M124 125h2M127 125h1M129 125h6M136 125h3M140 125h4M145 125h4M150 125h3M154 125h1M157 125h2M161 125h3M168 125h2M179 125h1M181 125h1M194 125h2M245 125h1M308 125h1M98 126h1M105 126h1M112 126h9M122 126h1M126 126h1M128 126h4M133 126h2M137 126h6M144 126h2M147 126h1M149 126h1M151 126h4M156 126h8M169 126h3M178 126h2M189 126h1M105 127h2M113 127h1M115 127h4M120 127h2M123 127h1M125 127h5M131 127h2M134 127h2M137 127h1M139 127h3M143 127h1M145 127h3M150 127h4M155 127h2M158 127h3M162 127h1M166 127h1M170 127h2M188 127h2M105 128h2M113 128h7M121 128h33M155 128h5M162 128h2M166 128h2M189 128h1M98 129h1M102 129h2M111 129h3M115 129h1M118 129h2M121 129h2M124 129h3M128 129h1M130 129h1M132 129h4M137 129h1M140 129h7M149 129h8M158 129h2M161 129h3M167 129h1M190 129h1M97 130h1M101 130h2M104 130h2M109 130h3M113 130h1M115 130h2M118 130h8M127 130h4M132 130h1M135 130h1M137 130h1M139 130h3M143 130h5M149 130h2M152 130h1M154 130h9M191 130h1M90 131h1M97 131h2M101 131h1M103 131h1M105 131h1M110 131h10M121 131h7M129 131h1M133 131h2M136 131h5M142 131h1M145 131h9M155 131h1M157 131h3M88 132h1M90 132h1M96 132h1M102 132h1M109 132h1M111 132h4M116 132h1M119 132h7M130 132h5M136 132h3M140 132h1M142 132h19M88 133h4M101 133h3M107 133h4M115 133h1M118 133h7M129 133h3M134 133h3M139 133h3M145 133h4M151 133h1M154 133h5M161 133h1M90 134h2M98 134h5M107 134h6M114 134h9M124 134h2M127 134h3M131 134h2M134 134h1M136 134h4M141 134h2M144 134h3M148 134h7M156 134h5M163 134h1M90 135h1M98 135h3M107 135h2M110 135h2M113 135h2M116 135h1M120 135h3M124 135h1M126 135h1M129 135h11M141 135h3M145 135h3M149 135h5M156 135h7M97 136h1M100 136h1M108 136h1M111 136h3M115 136h1M117 136h2M120 136h1M122 136h3M126 136h1M128 136h2M131 136h1M135 136h1M137 136h2M140 136h1M142 136h3M146 136h1M148 136h1M150 136h2M153 136h4M158 136h1M166 136h1M169 136h1M96 137h3M100 137h1M105 137h1M107 137h2M111 137h1M113 137h2M116 137h1M118 137h4M123 137h2M126 137h7M134 137h2M137 137h1M140 137h2M144 137h1M146 137h4M152 137h6M165 137h1M167 137h1M179 137h4M97 138h2M100 138h3M104 138h1M106 138h2M110 138h10M122 138h3M126 138h2M130 138h1M133 138h1M135 138h1M137 138h2M140 138h11M152 138h3M156 138h1M166 138h1M180 138h2M88 139h1M91 139h2M97 139h2M100 139h5M107 139h4M112 139h5M119 139h1M121 139h1M123 139h1M126 139h9M137 139h1M139 139h6M146 139h10M160 139h1M87 140h5M102 140h1M104 140h1M106 140h4M111 140h2M116 140h4M121 140h2M124 140h2M127 140h1M131 140h1M134 140h1M136 140h8M145 140h1M147 140h4M152 140h4M159 140h2M86 141h1M88 141h1M104 141h1M106 141h2M109 141h3M115 141h1M117 141h1M119 141h2M122 141h1M124 141h1M126 141h5M133 141h11M146 141h5M152 141h3M156 141h2M160 141h1M169 141h1M86 142h1M94 142h2M100 142h1M105 142h3M109 142h1M111 142h2M115 142h4M121 142h1M124 142h3M128 142h2M131 142h5M137 142h1M139 142h5M147 142h8M156 142h2M159 142h1M164 142h1M166 142h1M169 142h2M85 143h4M94 143h2M100 143h2M104 143h9M118 143h1M120 143h1M122 143h10M133 143h4M138 143h1M140 143h1M143 143h4M148 143h1M150 143h3M154 143h3M158 143h2M165 143h1M168 143h1M170 143h1M85 144h1M87 144h1M93 144h1M95 144h1M97 144h1M99 144h1M101 144h6M108 144h2M112 144h2M116 144h4M121 144h5M127 144h2M130 144h4M136 144h1M138 144h3M142 144h1M144 144h1M146 144h8M155 144h1M93 145h4M98 145h3M102 145h4M107 145h2M110 145h1M112 145h1M114 145h7M123 145h6M133 145h5M139 145h13M153 145h2M86 146h1M93 146h1M96 146h3M100 146h2M104 146h2M107 146h1M109 146h2M112 146h4M117 146h3M121 146h2M126 146h4M132 146h2M135 146h1M139 146h8M149 146h6M87 147h1M93 147h8M102 147h6M110 147h2M113 147h2M116 147h3M120 147h1M122 147h1M126 147h4M132 147h3M137 147h5M143 147h5M149 147h4M88 148h1M94 148h2M98 148h3M105 148h3M109 148h1M111 148h1M115 148h4M121 148h1M127 148h1M129 148h3M133 148h15M149 148h5M89 149h1M92 149h1M94 149h2M97 149h3M104 149h2M107 149h6M116 149h4M126 149h1M128 149h2M131 149h8M140 149h3M145 149h7M160 149h1M88 150h2M92 150h7M100 150h3M104 150h6M111 150h4M116 150h11M128 150h3M132 150h1M134 150h6M141 150h8M150 150h3M162 150h1M89 151h1M91 151h1M93 151h3M97 151h12M110 151h2M113 151h2M116 151h1M118 151h3M122 151h1M124 151h1M127 151h5M134 151h2M137 151h1M139 151h4M145 151h8M90 152h4M96 152h7M105 152h7M113 152h5M119 152h5M128 152h1M130 152h5M136 152h6M143 152h5M150 152h2M153 152h1M91 153h2M97 153h1M99 153h2M102 153h1M104 153h7M113 153h6M120 153h1M122 153h1M126 153h1M128 153h8M141 153h1M143 153h1M145 153h1M147 153h1M149 153h1M154 153h2M86 154h2M96 154h4M101 154h6M109 154h1M111 154h6M118 154h2M121 154h2M125 154h3M130 154h1M132 154h6M139 154h2M142 154h8M154 154h1M86 155h4M95 155h2M98 155h2M101 155h1M104 155h1M106 155h2M109 155h3M113 155h4M118 155h6M125 155h6M133 155h13M147 155h5M86 156h1M89 156h3M94 156h3M98 156h2M101 156h4M106 156h1M108 156h4M114 156h1M117 156h3M122 156h1M124 156h1M128 156h8M137 156h3M141 156h2M145 156h1M148 156h4M87 157h4M92 157h1M95 157h4M101 157h6M109 157h1M111 157h4M118 157h2M121 157h4M128 157h7M137 157h3M141 157h5M147 157h3M151 157h1M87 158h1M89 158h2M92 158h2M95 158h5M101 158h3M105 158h2M109 158h2M112 158h1M114 158h1M117 158h4M124 158h1M126 158h5M132 158h15M149 158h2M86 159h1M91 159h3M96 159h3M100 159h6M108 159h3M112 159h3M116 159h1M124 159h5M131 159h3M135 159h1M138 159h1M140 159h1M143 159h3M149 159h2M155 159h1M89 160h3M93 160h1M95 160h9M105 160h1M109 160h3M113 160h4M118 160h4M123 160h6M131 160h3M136 160h1M138 160h6M145 160h1M150 160h1M154 160h3M85 161h1M87 161h5M93 161h2M96 161h4M101 161h2M105 161h4M112 161h4M117 161h4M122 161h2M126 161h11M139 161h1M149 161h2M156 161h1M85 162h2M88 162h1M90 162h3M94 162h6M101 162h3M105 162h2M109 162h9M119 162h1M122 162h1M124 162h1M126 162h2M129 162h9M139 162h1M141 162h4M149 162h1M85 163h2M88 163h2M91 163h1M93 163h1M95 163h6M102 163h4M107 163h17M125 163h1M127 163h5M134 163h1M136 163h8M85 164h6M92 164h6M101 164h2M104 164h4M109 164h6M118 164h6M128 164h7M139 164h1M141 164h1M86 165h2M90 165h1M94 165h2M97 165h2M100 165h9M110 165h2M115 165h2M118 165h3M122 165h1M127 165h4M133 165h2M136 165h2M141 165h1M151 165h1M86 166h1M94 166h3M98 166h6M105 166h7M115 166h8M126 166h8M135 166h3M140 166h3M146 166h2M152 166h1M85 167h2M88 167h1M92 167h1M94 167h1M99 167h5M105 167h2M108 167h3M116 167h4M121 167h2M124 167h2M127 167h6M134 167h2M137 167h10M85 168h8M94 168h1M100 168h1M102 168h4M107 168h6M114 168h2M117 168h1M119 168h6M126 168h1M129 168h2M133 168h2M137 168h5M144 168h1M85 169h2M88 169h3M92 169h4M97 169h5M106 169h1M108 169h1M110 169h3M114 169h4M119 169h2M122 169h4M128 169h1M132 169h5M139 169h3M143 169h1M145 169h1M85 170h1M87 170h4M92 170h2M95 170h3M99 170h3M103 170h5M109 170h9M120 170h4M128 170h7M137 170h2M142 170h3M146 170h1M86 171h5M95 171h3M99 171h2M103 171h2M106 171h4M112 171h1M114 171h2M117 171h4M122 171h3M128 171h5M136 171h3M140 171h1M142 171h1M146 171h1M85 172h7M97 172h2M101 172h1M103 172h2M107 172h1M110 172h2M113 172h1M116 172h3M120 172h1M124 172h2M127 172h15M146 172h3M85 173h1M87 173h2M90 173h2M96 173h2M100 173h3M105 173h1M107 173h1M109 173h2M112 173h1M118 173h1M120 173h2M123 173h2M126 173h2M129 173h2M133 173h3M137 173h2M140 173h1M142 173h2M146 173h2M85 174h3M89 174h3M95 174h4M100 174h3M104 174h2M107 174h7M116 174h1M118 174h1M121 174h6M128 174h8M137 174h4M142 174h3M86 175h2M89 175h8M98 175h1M100 175h3M104 175h3M108 175h1M110 175h1M113 175h7M121 175h1M123 175h3M127 175h2M130 175h7M138 175h4M143 175h1M89 176h2M93 176h2M96 176h1M98 176h1M102 176h2M105 176h1M109 176h5M115 176h5M121 176h5M127 176h1M129 176h1M131 176h11M86 177h5M93 177h1M95 177h6M103 177h3M111 177h1M114 177h2M117 177h2M120 177h2M123 177h5M129 177h7M138 177h3M149 177h2M85 178h4M94 178h5M100 178h3M104 178h3M108 178h7M118 178h8M127 178h1M132 178h2M137 178h4M149 178h2M87 179h1M89 179h2M93 179h5M101 179h3M105 179h3M109 179h2M112 179h3M116 179h4M121 179h2M124 179h4M131 179h6M139 179h1M141 179h1M87 180h2M90 180h3M94 180h4M99 180h3M104 180h2M107 180h2M110 180h3M114 180h3M118 180h7M126 180h5M132 180h4M137 180h1M88 181h5M96 181h2M99 181h4M104 181h6M111 181h4M117 181h1M119 181h1M121 181h4M126 181h2M129 181h3M134 181h3M86 182h1M89 182h1M91 182h1M95 182h6M102 182h4M110 182h1M116 182h1M119 182h2M122 182h1M124 182h8M141 182h1M85 183h3M90 183h5M96 183h5M102 183h1M104 183h3M110 183h2M114 183h4M119 183h2M123 183h1M125 183h1M127 183h1M129 183h2M85 184h2M90 184h1M92 184h2M95 184h6M102 184h1M104 184h5M110 184h1M112 184h1M115 184h2M118 184h1M120 184h2M123 184h2M126 184h2M129 184h1M131 184h1M133 184h1M85 185h1M92 185h1M94 185h4M99 185h1M101 185h4M106 185h4M111 185h3M115 185h2M119 185h2M122 185h13M89 186h9M100 186h1M102 186h1M104 186h2M107 186h3M111 186h1M113 186h3M118 186h2M121 186h1M123 186h2M126 186h6M133 186h1M90 187h3M95 187h2M98 187h6M105 187h1M107 187h1M110 187h1M112 187h3M116 187h2M119 187h1M121 187h1M124 187h4M129 187h6M140 187h1M87 188h2M92 188h4M97 188h2M101 188h1M104 188h1M106 188h2M109 188h2M112 188h2M115 188h1M117 188h16M134 188h1M139 188h2M144 188h1M87 189h2M90 189h3M94 189h4M99 189h6M106 189h6M113 189h7M121 189h2M125 189h1M128 189h5M135 189h1M139 189h1M143 189h2M85 190h4M90 190h5M97 190h1M99 190h9M110 190h1M113 190h7M123 190h2M126 190h11M142 190h2M85 191h5M92 191h3M97 191h1M100 191h5M106 191h1M108 191h1M110 191h3M117 191h1M119 191h1M121 191h1M123 191h2M126 191h4M131 191h2M135 191h1M86 192h1M88 192h2M91 192h2M94 192h2M97 192h2M100 192h2M107 192h1M109 192h2M113 192h4M119 192h7M127 192h4M133 192h1M135 192h1M85 193h1M87 193h3M91 193h1M94 193h3M98 193h6M106 193h2M109 193h5M115 193h3M119 193h4M124 193h4M129 193h2M132 193h1M134 193h1M136 193h1M143 193h1M146 193h1M85 194h5M92 194h4M97 194h8M106 194h6M113 194h1M115 194h2M118 194h1M120 194h2M124 194h4M130 194h4M135 194h1M139 194h2M87 195h3M91 195h10M102 195h5M109 195h4M115 195h3M119 195h4M124 195h2M127 195h7M139 195h2M87 196h2M90 196h1M92 196h2M95 196h4M100 196h2M103 196h2M109 196h2M112 196h5M118 196h4M123 196h10M138 196h1M86 197h2M89 197h1M91 197h1M93 197h1M96 197h1M98 197h2M101 197h13M117 197h5M123 197h2M127 197h5M141 197h1M87 198h1M89 198h1M92 198h3M97 198h2M101 198h1M104 198h4M110 198h1M112 198h1M114 198h3M118 198h2M122 198h1M124 198h6M131 198h1M141 198h1M88 199h2M94 199h2M97 199h2M100 199h5M109 199h4M114 199h1M116 199h1M119 199h1M121 199h1M124 199h3M129 199h4M144 199h1M86 200h4M91 200h6M100 200h2M103 200h2M106 200h3M110 200h23M134 200h1M144 200h2M85 201h3M89 201h1M91 201h3M96 201h2M99 201h7M107 201h4M112 201h2M115 201h16M135 201h1M85 202h4M93 202h1M97 202h4M102 202h2M105 202h1M109 202h10M120 202h1M122 202h3M128 202h1M130 202h3M134 202h3M85 203h6M92 203h1M94 203h3M103 203h5M109 203h2M112 203h2M115 203h1M117 203h3M121 203h6M128 203h5M135 203h1M86 204h4M91 204h3M95 204h3M100 204h4M105 204h2M108 204h2M111 204h2M114 204h4M119 204h3M123 204h4M129 204h1M131 204h2M90 205h3M95 205h2M98 205h3M102 205h3M106 205h3M112 205h3M117 205h16M89 206h3M93 206h2M96 206h2M99 206h7M107 206h4M112 206h1M114 206h1M116 206h1M118 206h3M123 206h2M127 206h2M132 206h1M136 206h3M86 207h1M88 207h1M90 207h2M94 207h2M98 207h6M105 207h6M112 207h2M115 207h10M126 207h6M133 207h1M137 207h1M87 208h3M91 208h1M93 208h1M95 208h2M99 208h5M105 208h3M109 208h1M111 208h3M115 208h1M117 208h2M123 208h2M126 208h11M88 209h2M93 209h2M96 209h5M102 209h2M105 209h3M109 209h1M111 209h7M121 209h2M124 209h6M131 209h1M134 209h1M137 209h1M86 210h3M94 210h1M96 210h3M100 210h2M103 210h1M105 210h3M109 210h3M115 210h1M118 210h1M120 210h8M130 210h2M86 211h4M93 211h2M96 211h6M103 211h1M105 211h1M107 211h1M109 211h4M114 211h1M116 211h3M120 211h1M122 211h3M126 211h3M130 211h2M87 212h12M100 212h8M109 212h8M118 212h2M121 212h1M123 212h9M88 213h3M92 213h5M98 213h2M101 213h4M106 213h7M114 213h5M120 213h1M122 213h3M127 213h1M86 214h2M91 214h1M93 214h5M101 214h5M108 214h2M111 214h1M113 214h2M116 214h6M123 214h3M128 214h1M85 215h1M88 215h8M97 215h2M100 215h4M106 215h3M110 215h3M115 215h2M118 215h10M86 216h3M92 216h3M96 216h1M98 216h1M100 216h3M106 216h4M113 216h3M119 216h1M121 216h3M126 216h1M87 217h3M92 217h3M96 217h1M99 217h5M106 217h1M108 217h4M113 217h1M121 217h1M125 217h2M129 217h1M131 217h2M86 218h1M88 218h1M90 218h1M92 218h8M102 218h4M108 218h10M119 218h3M125 218h1M128 218h3M132 218h1M86 219h1M88 219h8M97 219h5M103 219h1M105 219h2M108 219h1M110 219h2M113 219h1M115 219h1M117 219h1M119 219h3M124 219h1M128 219h1M131 219h1M87 220h2M90 220h2M93 220h6M100 220h6M107 220h1M109 220h2M112 220h6M119 220h2M122 220h2M142 220h1M86 221h3M90 221h6M97 221h2M101 221h1M103 221h2M106 221h9M116 221h2M119 221h1M121 221h2M132 221h1M85 222h4M90 222h4M95 222h3M101 222h1M104 222h4M112 222h1M115 222h1M117 222h6M126 222h1M131 222h1M85 223h3M90 223h2M93 223h2M97 223h7M105 223h1M107 223h2M110 223h2M113 223h6M120 223h1M122 223h1M125 223h1M93 224h8M102 224h7M110 224h2M113 224h5M120 224h4M125 224h1M89 225h1M95 225h3M100 225h2M103 225h3M108 225h9M119 225h1M121 225h4M126 225h2M132 225h1M86 226h1M88 226h19M108 226h5M115 226h4M120 226h1M122 226h5M132 226h2M87 227h3M91 227h1M93 227h1M95 227h6M102 227h1M104 227h4M110 227h3M114 227h1M117 227h5M123 227h1M125 227h2M133 227h2M85 228h10M96 228h4M101 228h8M112 228h9M122 228h1M124 228h2M128 228h2M85 229h8M94 229h2M97 229h11M109 229h2M112 229h1M114 229h4M119 229h2M122 229h2M126 229h4M85 230h2M88 230h2M92 230h4M98 230h3M103 230h2M106 230h2M109 230h3M114 230h7M122 230h1M127 230h1M129 230h1M86 231h1M88 231h1M92 231h3M97 231h1M99 231h4M106 231h1M108 231h2M111 231h6M118 231h4M130 231h2M86 232h2M90 232h1M92 232h3M96 232h3M100 232h4M105 232h2M109 232h3M113 232h3M117 232h4M130 232h1M86 233h1M88 233h2M91 233h1M93 233h4M99 233h3M103 233h3M108 233h1M110 233h3M114 233h2M118 233h3M131 233h1M86 234h7M94 234h4M99 234h3M103 234h6M111 234h7M119 234h1M123 234h2M85 235h5M93 235h5M99 235h1M101 235h1M103 235h1M107 235h1M109 235h7M118 235h3M123 235h1M125 235h1M85 236h1M87 236h2M90 236h8M99 236h3M103 236h1M106 236h8M116 236h2M119 236h2M123 236h2M86 237h4M91 237h1M97 237h4M102 237h2M105 237h1M107 237h2M110 237h5M116 237h2M122 237h1M124 237h1M85 238h2M88 238h1M90 238h3M95 238h3M99 238h1M101 238h1M103 238h2M106 238h2M109 238h1M111 238h2M114 238h4M121 238h2M125 238h2M85 239h4M90 239h7M98 239h1M100 239h1M103 239h2M106 239h1M108 239h1M110 239h1M112 239h3M117 239h4M122 239h1M124 239h2M127 239h1M85 240h1M88 240h4M93 240h3M98 240h1M100 240h1M102 240h2M105 240h1M107 240h2M110 240h1M113 240h4M118 240h2M123 240h1M126 240h1M85 241h4M91 241h9M101 241h1M103 241h5M109 241h3M115 241h1M123 241h1M86 242h1M89 242h2M93 242h1M95 242h2M99 242h5M105 242h1M107 242h3M112 242h1M115 242h2M124 242h1M85 243h6M92 243h2M96 243h3M100 243h1M102 243h2M105 243h2M109 243h3M115 243h1M123 243h1M85 244h8M94 244h3M98 244h1M101 244h3M105 244h2M108 244h4M113 244h4M85 245h1M88 245h2M92 245h1M94 245h1M96 245h3M101 245h3M105 245h2M108 245h4M113 245h3M117 245h1M89 246h1M91 246h3M96 246h2M99 246h1M102 246h2M106 246h1M108 246h4M114 246h1M118 246h1M85 247h1M87 247h5M94 247h3M98 247h2M101 247h1M103 247h2M106 247h1M108 247h7M119 247h1M85 248h6M96 248h5M102 248h1M105 248h1M107 248h8M120 248h1M86 249h1M88 249h3M94 249h8M105 249h6M112 249h3M119 249h1M89 250h14M104 250h7M112 250h1M89 251h1M91 251h3M96 251h1M98 251h3M102 251h2M106 251h4M111 251h2M120 251h1M89 252h1M91 252h6M99 252h1M101 252h2M104 252h1M106 252h4M111 252h1M119 252h2M85 253h3M89 253h4M94 253h2M98 253h2M101 253h1M103 253h1M105 253h1M107 253h2M110 253h2M118 253h2M85 254h2M88 254h1M92 254h2M100 254h5M106 254h2M118 254h3M85 255h1M87 255h3M91 255h2M94 255h3M101 255h2M104 255h3M121 255h2M86 256h1M90 256h6M97 256h1M100 256h2M103 256h5M121 256h1M91 257h1M94 257h1M96 257h2M99 257h1M101 257h1M104 257h2M107 257h1M120 257h1M89 258h2M92 258h2M96 258h1M101 258h1M103 258h2M107 258h2M111 258h1M86 259h2M90 259h1M92 259h3M97 259h1M100 259h1M102 259h8M87 260h4M92 260h4M97 260h2M100 260h4M105 260h6M123 260h2M87 261h1M90 261h1M92 261h2M95 261h2M98 261h3M102 261h3M108 261h1M112 261h1M124 261h1M86 262h1M90 262h2M94 262h1M96 262h4M101 262h3M125 262h1M85 263h2M88 263h9M98 263h2M101 263h4M85 264h5M91 264h5M97 264h5M103 264h1M86 265h2M89 265h1M91 265h3M96 265h1M98 265h1M108 265h1M85 266h1M88 266h1M90 266h1M92 266h2M95 266h3M99 266h1M104 266h5M85 267h4M90 267h3M94 267h1M96 267h1M98 267h1M104 267h2M112 267h2M85 268h2M88 268h6M95 268h2M85 269h3M91 269h5M104 269h2M115 269h1M86 270h3M92 270h1M95 270h1M100 270h2M103 270h2M85 271h4M91 271h2M96 271h1M101 271h2M86 272h2M91 272h3M86 273h1M88 273h2M91 273h3M86 274h3M90 274h1M92 274h1M112 274h1M86 275h1M89 275h2M95 275h1M86 276h2M89 276h1M94 276h2M103 276h2M87 277h2M94 277h1M96 277h1M103 277h2M94 279h2M94 280h2M93 282h1" stroke="#bebebe" stroke-width="1" fill="none"/><path transform="translate(0.25,0.75)" d="M103 56h1.5M108 56h1.5M120 56h1.5M130 56h1.5M143 56h2.5M146 56h1.5M148 56h1.5M151 56h1.5M121 57h1.5M124 57h1.5M126 57h2.5M138 57h1.5M146 57h1.5M124 58h1.5M132 58h1.5M135 58h1.5M149 58h1.5M109 59h1.5M130 59h1.5M134 59h1.5M136 59h1.5M102 60h1.5M108 60h1.5M127 60h1.5M132 60h1.5M139 60h1.5M143 60h1.5M111 61h1.5M134 61h1.5M136 61h1.5M142 61h1.5M146 61h1.5M105 62h1.5M122 62h1.5M130 62h1.5M138 62h1.5M110 63h1.5M115 63h1.5M131 63h1.5M139 63h1.5M141 63h1.5M148 63h1.5M114 64h1.5M119 64h1.5M123 64h1.5M127 64h1.5M129 64h1.5M133 64h1.5M138 64h1.5M140 65h2.5M143 65h1.5M123 66h1.5M126 66h1.5M132 66h1.5M145 66h1.5M136 67h2.5M139 67h1.5M125 68h1.5M131 68h2.5M535 68h1.5M86 69h1.5M123 69h1.5M125 69h1.5M127 69h2.5M135 69h1.5M137 69h1.5M141 69h1.5M144 69h1.5M608 69h1.5M670 69h1.5M131 70h1.5M134 70h1.5M150 70h1.5M343 70h1.5M522 70h1.5M553 70h1.5M620 70h1.5M670 70h1.5M114 71h1.5M119 71h1.5M124 71h1.5M126 71h2.5M129 71h1.5M131 71h1.5M138 71h1.5M142 71h1.5M147 71h1.5M551 71h1.5M641 71h1.5M98 72h1.5M101 72h1.5M119 72h1.5M135 72h2.5M148 72h2.5M594 72h1.5M670 72h1.5M112 73h1.5M117 73h1.5M119 73h1.5M124 73h1.5M606 73h1.5M649 73h1.5M85 74h1.5M120 74h1.5M123 74h1.5M145 74h2.5M148 74h1.5M550 74h1.5M558 74h1.5M589 74h1.5M670 74h1.5M121 75h1.5M128 75h1.5M132 75h1.5M136 75h2.5M414 75h1.5M607 75h1.5M93 76h1.5M108 76h1.5M121 76h1.5M130 76h1.5M139 76h1.5M557 76h1.5M131 77h2.5M137 77h1.5M139 77h1.5M539 77h1.5M106 78h1.5M116 78h1.5M129 78h1.5M537 78h1.5M663 78h1.5M97 79h1.5M127 79h1.5M138 79h1.5M490 79h1.5M540 79h1.5M549 79h1.5M551 79h1.5M569 79h1.5M120 80h1.5M135 80h1.5M141 80h1.5M524 80h1.5M599 80h1.5M660 80h1.5M115 81h1.5M392 81h1.5M408 81h1.5M457 81h1.5M479 81h2.5M490 81h1.5M529 81h1.5M542 81h1.5M611 81h1.5M668 81h1.5M670 81h1.5M111 82h1.5M118 82h1.5M128 82h2.5M136 82h1.5M227 82h2.5M342 82h1.5M440 82h1.5M459 82h1.5M519 82h1.5M550 82h1.5M597 82h1.5M613 82h1.5M618 82h2.5M629 82h1.5M658 82h1.5M660 82h1.5M664 82h1.5M670 82h1.5M109 83h1.5M111 83h1.5M120 83h1.5M135 83h1.5M140 83h1.5M239 83h1.5M320 83h1.5M355 83h1.5M408 83h1.5M440 83h1.5M456 83h1.5M542 83h1.5M558 83h1.5M580 83h1.5M582 83h1.5M608 83h1.5M624 83h1.5M655 83h1.5M668 83h1.5M670 83h1.5M101 84h1.5M123 84h2.5M128 84h1.5M131 84h1.5M140 84h1.5M142 84h1.5M182 84h1.5M241 84h1.5M374 84h1.5M392 84h1.5M435 84h1.5M438 84h1.5M448 84h1.5M458 84h1.5M468 84h1.5M512 84h1.5M522 84h1.5M591 84h1.5M597 84h1.5M627 84h1.5M630 84h1.5M636 84h1.5M651 84h1.5M657 84h1.5M664 84h1.5M667 84h2.5M670 84h1.5M109 85h1.5M116 85h1.5M118 85h1.5M137 85h1.5M322 85h1.5M382 85h1.5M440 85h1.5M446 85h1.5M448 85h1.5M515 85h1.5M517 85h1.5M524 85h1.5M542 85h1.5M551 85h1.5M557 85h1.5M589 85h1.5M600 85h1.5M604 85h1.5M607 85h2.5M610 85h1.5M618 85h2.5M629 85h1.5M660 85h1.5M121 86h1.5M126 86h1.5M132 86h1.5M139 86h1.5M305 86h1.5M373 86h1.5M477 86h1.5M512 86h1.5M521 86h2.5M540 86h1.5M555 86h1.5M581 86h2.5M589 86h1.5M591 86h1.5M606 86h1.5M615 86h1.5M622 86h1.5M662 86h1.5M664 86h1.5M666 86h1.5M97 87h1.5M113 87h2.5M130 87h1.5M262 87h1.5M320 87h1.5M322 87h1.5M368 87h1.5M405 87h1.5M425 87h1.5M477 87h1.5M514 87h2.5M517 87h1.5M545 87h1.5M550 87h1.5M584 87h1.5M591 87h1.5M593 87h1.5M608 87h1.5M612 87h1.5M614 87h1.5M620 87h1.5M622 87h1.5M652 87h1.5M660 87h1.5M89 88h1.5M111 88h1.5M120 88h2.5M123 88h1.5M352 88h1.5M368 88h1.5M515 88h1.5M522 88h1.5M553 88h1.5M590 88h1.5M599 88h1.5M601 88h1.5M607 88h1.5M610 88h1.5M625 88h1.5M629 88h1.5M663 88h2.5M96 89h1.5M109 89h1.5M125 89h1.5M127 89h1.5M261 89h1.5M319 89h1.5M383 89h1.5M391 89h1.5M404 89h1.5M407 89h1.5M461 89h1.5M485 89h2.5M513 89h1.5M522 89h1.5M545 89h1.5M550 89h1.5M559 89h1.5M564 89h1.5M566 89h1.5M594 89h1.5M601 89h1.5M612 89h1.5M621 89h1.5M652 89h1.5M658 89h1.5M667 89h1.5M670 89h1.5M85 90h1.5M87 90h1.5M89 90h2.5M111 90h1.5M113 90h1.5M115 90h1.5M121 90h2.5M132 90h1.5M248 90h1.5M361 90h2.5M381 90h1.5M398 90h1.5M447 90h1.5M483 90h1.5M488 90h1.5M506 90h1.5M515 90h1.5M525 90h1.5M529 90h1.5M547 90h2.5M552 90h1.5M597 90h1.5M602 90h1.5M608 90h1.5M622 90h1.5M631 90h1.5M654 90h1.5M656 90h1.5M658 90h1.5M660 90h1.5M662 90h1.5M100 91h1.5M117 91h1.5M119 91h1.5M127 91h2.5M134 91h1.5M230 91h1.5M364 91h1.5M378 91h2.5M381 91h1.5M404 91h1.5M407 91h1.5M462 91h2.5M485 91h1.5M502 91h1.5M508 91h1.5M510 91h1.5M513 91h1.5M550 91h1.5M564 91h1.5M590 91h1.5M597 91h1.5M606 91h1.5M610 91h1.5M612 91h1.5M615 91h1.5M624 91h1.5M627 91h1.5M633 91h1.5M667 91h1.5M670 91h1.5M98 92h1.5M123 92h2.5M137 92h1.5M397 92h1.5M400 92h1.5M448 92h2.5M452 92h1.5M454 92h1.5M496 92h1.5M504 92h1.5M524 92h1.5M528 92h1.5M542 92h1.5M544 92h1.5M547 92h1.5M587 92h1.5M593 92h1.5M595 92h1.5M607 92h1.5M612 92h1.5M617 92h1.5M619 92h1.5M622 92h1.5M626 92h1.5M629 92h1.5M634 92h1.5M636 92h1.5M653 92h1.5M655 92h1.5M665 92h1.5M105 93h1.5M114 93h1.5M117 93h1.5M126 93h1.5M367 93h1.5M394 93h1.5M401 93h1.5M440 93h1.5M484 93h1.5M486 93h1.5M497 93h1.5M499 93h1.5M511 93h1.5M514 93h1.5M524 93h1.5M526 93h1.5M552 93h1.5M562 93h1.5M581 93h1.5M583 93h1.5M591 93h1.5M598 93h1.5M610 93h1.5M614 93h1.5M621 93h1.5M623 93h3.5M631 93h1.5M645 93h1.5M653 93h1.5M660 93h1.5M663 93h1.5M667 93h1.5M102 94h1.5M111 94h1.5M130 94h1.5M136 94h1.5M365 94h1.5M396 94h1.5M399 94h1.5M448 94h1.5M480 94h1.5M486 94h1.5M490 94h1.5M501 94h1.5M513 94h1.5M516 94h1.5M519 94h1.5M521 94h2.5M524 94h1.5M528 94h1.5M541 94h1.5M546 94h1.5M591 94h1.5M594 94h1.5M611 94h1.5M616 94h1.5M619 94h1.5M652 94h1.5M659 94h1.5M665 94h1.5M109 95h1.5M120 95h1.5M124 95h1.5M136 95h1.5M138 95h1.5M273 95h1.5M285 95h1.5M343 95h1.5M390 95h1.5M393 95h1.5M395 95h1.5M401 95h1.5M403 95h1.5M437 95h1.5M446 95h1.5M491 95h1.5M500 95h1.5M502 95h1.5M506 95h1.5M524 95h1.5M543 95h1.5M562 95h1.5M589 95h1.5M600 95h1.5M607 95h1.5M610 95h1.5M613 95h1.5M619 95h1.5M621 95h2.5M626 95h1.5M630 95h2.5M650 95h1.5M90 96h1.5M93 96h1.5M98 96h1.5M105 96h1.5M109 96h1.5M112 96h1.5M118 96h1.5M122 96h1.5M257 96h1.5M299 96h1.5M381 96h1.5M388 96h1.5M435 96h1.5M450 96h1.5M454 96h1.5M482 96h1.5M484 96h1.5M487 96h1.5M489 96h1.5M495 96h1.5M517 96h1.5M520 96h3.5M528 96h1.5M548 96h1.5M557 96h1.5M593 96h2.5M609 96h1.5M612 96h1.5M617 96h1.5M620 96h1.5M624 96h1.5M627 96h1.5M638 96h1.5M647 96h1.5M652 96h1.5M654 96h2.5M659 96h1.5M661 96h1.5M663 96h1.5M665 96h1.5M92 97h1.5M97 97h1.5M122 97h1.5M137 97h1.5M252 97h1.5M257 97h1.5M349 97h1.5M376 97h1.5M380 97h1.5M389 97h1.5M403 97h1.5M405 97h1.5M437 97h1.5M450 97h1.5M480 97h1.5M482 97h1.5M489 97h1.5M498 97h1.5M509 97h1.5M519 97h1.5M523 97h1.5M544 97h1.5M563 97h1.5M565 97h1.5M568 97h2.5M586 97h1.5M588 97h3.5M598 97h1.5M601 97h1.5M614 97h2.5M624 97h1.5M626 97h1.5M649 97h1.5M667 97h1.5M89 98h1.5M107 98h1.5M109 98h1.5M124 98h1.5M216 98h1.5M231 98h1.5M290 98h1.5M339 98h1.5M347 98h1.5M352 98h1.5M386 98h1.5M396 98h1.5M435 98h1.5M442 98h1.5M446 98h1.5M448 98h1.5M453 98h1.5M485 98h1.5M487 98h1.5M494 98h1.5M497 98h1.5M499 98h1.5M505 98h1.5M507 98h2.5M513 98h1.5M517 98h1.5M525 98h1.5M527 98h1.5M529 98h1.5M535 98h1.5M538 98h1.5M543 98h1.5M545 98h1.5M593 98h1.5M604 98h1.5M607 98h1.5M617 98h1.5M622 98h1.5M627 98h1.5M636 98h1.5M647 98h1.5M649 98h2.5M653 98h1.5M663 98h1.5M100 99h1.5M110 99h1.5M114 99h1.5M119 99h1.5M123 99h1.5M128 99h1.5M134 99h1.5M246 99h1.5M252 99h1.5M273 99h1.5M349 99h1.5M388 99h1.5M396 99h1.5M400 99h1.5M403 99h1.5M407 99h1.5M437 99h1.5M454 99h1.5M481 99h1.5M487 99h1.5M500 99h2.5M522 99h1.5M541 99h1.5M547 99h1.5M550 99h1.5M552 99h1.5M556 99h1.5M558 99h1.5M560 99h1.5M562 99h1.5M565 99h1.5M576 99h1.5M578 99h1.5M580 99h2.5M584 99h1.5M595 99h1.5M606 99h1.5M609 99h1.5M618 99h1.5M621 99h1.5M627 99h1.5M636 99h1.5M641 99h1.5M657 99h1.5M659 99h1.5M667 99h1.5M670 99h1.5M97 100h2.5M119 100h1.5M125 100h1.5M129 100h1.5M132 100h1.5M234 100h1.5M271 100h1.5M274 100h1.5M332 100h1.5M347 100h1.5M381 100h2.5M386 100h1.5M394 100h1.5M412 100h1.5M414 100h1.5M432 100h1.5M439 100h1.5M441 100h1.5M443 100h1.5M474 100h1.5M490 100h1.5M494 100h1.5M497 100h1.5M503 100h1.5M506 100h1.5M509 100h1.5M527 100h1.5M538 100h1.5M541 100h1.5M572 100h1.5M584 100h1.5M592 100h1.5M594 100h1.5M599 100h1.5M603 100h1.5M623 100h1.5M625 100h1.5M627 100h1.5M630 100h1.5M633 100h1.5M638 100h1.5M640 100h1.5M649 100h4.5M654 100h1.5M664 100h1.5M86 101h1.5M116 101h1.5M124 101h1.5M129 101h1.5M211 101h1.5M236 101h1.5M244 101h1.5M259 101h2.5M271 101h1.5M282 101h1.5M300 101h1.5M351 101h1.5M356 101h1.5M360 101h1.5M372 101h1.5M374 101h1.5M378 101h1.5M391 101h1.5M393 101h1.5M397 101h1.5M406 101h1.5M430 101h1.5M435 101h1.5M438 101h1.5M441 101h1.5M457 101h1.5M482 101h1.5M488 101h1.5M492 101h1.5M499 101h1.5M504 101h1.5M509 101h1.5M529 101h1.5M540 101h1.5M552 101h1.5M557 101h1.5M559 101h1.5M561 101h2.5M601 101h1.5M605 101h2.5M628 101h1.5M631 101h1.5M635 101h2.5M638 101h1.5M647 101h1.5M654 101h1.5M668 101h1.5M670 101h1.5M85 102h1.5M87 102h1.5M108 102h1.5M112 102h1.5M116 102h1.5M121 102h1.5M123 102h1.5M211 102h1.5M213 102h1.5M227 102h1.5M229 102h1.5M273 102h2.5M276 102h1.5M278 102h1.5M284 102h1.5M287 102h1.5M303 102h1.5M345 102h1.5M347 102h1.5M349 102h1.5M366 102h1.5M383 102h1.5M386 102h1.5M395 102h1.5M399 102h1.5M421 102h1.5M424 102h1.5M427 102h1.5M435 102h1.5M459 102h1.5M472 102h1.5M476 102h1.5M488 102h2.5M492 102h1.5M504 102h1.5M511 102h1.5M516 102h1.5M522 102h1.5M529 102h1.5M534 102h1.5M543 102h1.5M546 102h1.5M553 102h1.5M564 102h1.5M566 102h1.5M585 102h1.5M587 102h1.5M591 102h1.5M593 102h2.5M599 102h1.5M601 102h1.5M623 102h1.5M626 102h1.5M631 102h1.5M633 102h1.5M635 102h1.5M638 102h1.5M645 102h1.5M649 102h2.5M652 102h1.5M660 102h1.5M664 102h1.5M670 102h1.5M87 103h1.5M91 103h1.5M93 103h1.5M103 103h1.5M111 103h1.5M118 103h1.5M134 103h1.5M136 103h1.5M227 103h1.5M259 103h1.5M264 103h1.5M268 103h1.5M272 103h1.5M280 103h1.5M291 103h1.5M294 103h1.5M296 103h1.5M300 103h1.5M302 103h1.5M325 103h1.5M339 103h1.5M347 103h1.5M351 103h1.5M355 103h2.5M361 103h1.5M368 103h1.5M371 103h2.5M387 103h1.5M394 103h1.5M397 103h1.5M403 103h1.5M415 103h1.5M423 103h1.5M433 103h1.5M437 103h1.5M442 103h1.5M446 103h1.5M449 103h1.5M455 103h1.5M480 103h1.5M484 103h1.5M499 103h1.5M510 103h1.5M514 103h1.5M520 103h1.5M526 103h1.5M541 103h2.5M548 103h1.5M551 103h1.5M557 103h1.5M559 103h2.5M569 103h1.5M597 103h1.5M601 103h1.5M611 103h1.5M640 103h1.5M642 103h2.5M663 103h1.5M85 104h1.5M91 104h1.5M103 104h2.5M106 104h2.5M112 104h1.5M114 104h1.5M117 104h1.5M121 104h1.5M126 104h1.5M129 104h1.5M216 104h1.5M225 104h1.5M230 104h1.5M257 104h1.5M259 104h1.5M261 104h1.5M266 104h1.5M302 104h1.5M304 104h1.5M306 104h1.5M308 104h1.5M332 104h1.5M337 104h1.5M341 104h1.5M343 104h1.5M352 104h1.5M359 104h1.5M366 104h1.5M375 104h1.5M382 104h1.5M389 104h1.5M391 104h1.5M402 104h1.5M408 104h1.5M410 104h1.5M427 104h1.5M431 104h1.5M436 104h1.5M451 104h1.5M463 104h1.5M473 104h1.5M475 104h1.5M485 104h1.5M500 104h1.5M510 104h1.5M517 104h2.5M524 104h1.5M526 104h1.5M528 104h2.5M534 104h1.5M538 104h1.5M545 104h2.5M553 104h1.5M555 104h1.5M559 104h1.5M569 104h1.5M580 104h1.5M584 104h1.5M598 104h1.5M600 104h1.5M605 104h1.5M612 104h1.5M625 104h1.5M628 104h1.5M631 104h1.5M633 104h1.5M635 104h2.5M639 104h1.5M645 104h1.5M656 104h1.5M92 105h1.5M95 105h2.5M119 105h1.5M128 105h1.5M131 105h1.5M219 105h1.5M227 105h1.5M230 105h1.5M253 105h1.5M255 105h1.5M262 105h1.5M264 105h1.5M267 105h1.5M272 105h1.5M276 105h1.5M279 105h2.5M286 105h1.5M289 105h1.5M293 105h1.5M299 105h1.5M304 105h1.5M335 105h1.5M351 105h1.5M364 105h1.5M381 105h2.5M386 105h1.5M390 105h1.5M393 105h1.5M413 105h1.5M415 105h1.5M423 105h1.5M427 105h1.5M449 105h1.5M453 105h1.5M456 105h1.5M460 105h2.5M466 105h1.5M470 105h1.5M472 105h1.5M477 105h1.5M487 105h1.5M497 105h1.5M514 105h1.5M520 105h2.5M555 105h1.5M562 105h1.5M587 105h1.5M596 105h1.5M610 105h1.5M617 105h1.5M628 105h1.5M640 105h2.5M656 105h1.5M95 106h1.5M102 106h1.5M105 106h1.5M113 106h1.5M118 106h2.5M121 106h1.5M129 106h1.5M131 106h1.5M210 106h1.5M220 106h2.5M224 106h1.5M226 106h1.5M255 106h1.5M259 106h1.5M273 106h1.5M296 106h1.5M298 106h1.5M316 106h1.5M318 106h1.5M326 106h1.5M330 106h1.5M333 106h1.5M341 106h1.5M365 106h1.5M367 106h1.5M372 106h1.5M404 106h1.5M409 106h1.5M411 106h1.5M413 106h1.5M430 106h1.5M434 106h2.5M443 106h1.5M452 106h1.5M457 106h1.5M478 106h1.5M484 106h1.5M489 106h1.5M518 106h1.5M538 106h1.5M552 106h2.5M555 106h1.5M557 106h1.5M562 106h1.5M575 106h1.5M580 106h2.5M597 106h3.5M602 106h1.5M626 106h1.5M635 106h1.5M644 106h1.5M650 106h1.5M667 106h2.5M92 107h1.5M110 107h1.5M115 107h1.5M127 107h1.5M210 107h1.5M215 107h2.5M222 107h1.5M230 107h1.5M241 107h1.5M244 107h1.5M258 107h2.5M261 107h2.5M264 107h1.5M267 107h1.5M274 107h1.5M280 107h1.5M290 107h1.5M296 107h1.5M302 107h1.5M306 107h1.5M308 107h1.5M320 107h1.5M323 107h1.5M332 107h1.5M335 107h2.5M345 107h1.5M354 107h1.5M363 107h1.5M365 107h1.5M368 107h2.5M376 107h1.5M382 107h1.5M391 107h1.5M398 107h1.5M400 107h1.5M413 107h1.5M416 107h1.5M418 107h1.5M422 107h1.5M432 107h1.5M436 107h2.5M458 107h1.5M463 107h1.5M472 107h1.5M475 107h1.5M483 107h1.5M485 107h1.5M488 107h1.5M495 107h1.5M497 107h3.5M501 107h1.5M514 107h1.5M535 107h1.5M547 107h1.5M549 107h1.5M559 107h1.5M567 107h2.5M570 107h1.5M578 107h1.5M584 107h1.5M587 107h1.5M591 107h1.5M595 107h1.5M609 107h1.5M628 107h1.5M637 107h1.5M643 107h1.5M648 107h1.5M664 107h1.5M90 108h1.5M93 108h2.5M106 108h1.5M109 108h1.5M112 108h1.5M119 108h1.5M121 108h1.5M212 108h1.5M214 108h1.5M220 108h1.5M222 108h1.5M228 108h1.5M233 108h1.5M239 108h1.5M251 108h1.5M254 108h1.5M272 108h1.5M276 108h1.5M281 108h1.5M286 108h1.5M291 108h1.5M298 108h1.5M300 108h1.5M302 108h1.5M305 108h1.5M308 108h1.5M318 108h1.5M328 108h1.5M331 108h1.5M341 108h1.5M352 108h1.5M356 108h2.5M371 108h1.5M377 108h2.5M385 108h1.5M392 108h1.5M401 108h1.5M411 108h1.5M415 108h1.5M419 108h1.5M434 108h1.5M439 108h1.5M446 108h1.5M449 108h1.5M454 108h2.5M457 108h1.5M461 108h1.5M466 108h1.5M468 108h1.5M470 108h1.5M474 108h1.5M481 108h1.5M492 108h1.5M496 108h1.5M520 108h1.5M522 108h1.5M527 108h1.5M544 108h1.5M553 108h1.5M570 108h1.5M572 108h1.5M592 108h1.5M600 108h1.5M603 108h1.5M619 108h1.5M634 108h1.5M649 108h2.5M661 108h1.5M663 108h1.5M86 109h1.5M90 109h1.5M104 109h1.5M113 109h2.5M120 109h1.5M123 109h1.5M128 109h1.5M217 109h1.5M224 109h2.5M240 109h1.5M242 109h3.5M247 109h2.5M261 109h1.5M313 109h1.5M316 109h1.5M328 109h1.5M363 109h1.5M370 109h1.5M379 109h1.5M394 109h1.5M401 109h1.5M409 109h1.5M449 109h1.5M470 109h1.5M483 109h1.5M489 109h1.5M492 109h1.5M501 109h1.5M518 109h1.5M529 109h1.5M536 109h1.5M552 109h1.5M568 109h1.5M572 109h1.5M587 109h1.5M627 109h2.5M633 109h1.5M654 109h1.5M656 109h1.5M90 110h1.5M93 110h1.5M96 110h1.5M98 110h1.5M100 110h1.5M104 110h1.5M106 110h1.5M111 110h1.5M115 110h1.5M117 110h1.5M214 110h1.5M229 110h1.5M233 110h1.5M238 110h1.5M240 110h1.5M251 110h1.5M257 110h1.5M259 110h1.5M264 110h1.5M274 110h1.5M298 110h1.5M302 110h1.5M310 110h1.5M321 110h1.5M325 110h1.5M328 110h1.5M333 110h1.5M339 110h2.5M346 110h1.5M352 110h1.5M356 110h1.5M392 110h1.5M403 110h2.5M409 110h1.5M414 110h2.5M435 110h1.5M439 110h1.5M458 110h1.5M461 110h1.5M468 110h2.5M473 110h2.5M477 110h1.5M481 110h2.5M497 110h1.5M501 110h1.5M520 110h1.5M525 110h3.5M529 110h1.5M538 110h1.5M546 110h1.5M552 110h1.5M560 110h1.5M577 110h1.5M587 110h1.5M589 110h1.5M604 110h1.5M608 110h1.5M634 110h1.5M638 110h1.5M646 110h1.5M670 110h1.5M85 111h2.5M93 111h1.5M109 111h1.5M198 111h1.5M214 111h1.5M220 111h1.5M233 111h1.5M235 111h1.5M242 111h2.5M245 111h1.5M248 111h1.5M257 111h1.5M261 111h1.5M264 111h1.5M278 111h1.5M281 111h1.5M288 111h1.5M300 111h1.5M307 111h1.5M314 111h1.5M317 111h1.5M325 111h1.5M328 111h1.5M354 111h1.5M359 111h1.5M364 111h2.5M372 111h1.5M374 111h1.5M393 111h1.5M401 111h1.5M409 111h1.5M419 111h1.5M437 111h1.5M442 111h2.5M446 111h1.5M477 111h1.5M497 111h1.5M538 111h1.5M544 111h1.5M546 111h1.5M555 111h1.5M565 111h2.5M569 111h1.5M580 111h1.5M595 111h2.5M639 111h2.5M643 111h1.5M649 111h1.5M662 111h1.5M670 111h1.5M88 112h1.5M90 112h1.5M99 112h1.5M101 112h1.5M111 112h2.5M114 112h1.5M125 112h2.5M200 112h1.5M205 112h1.5M208 112h1.5M210 112h1.5M214 112h1.5M222 112h2.5M226 112h1.5M231 112h1.5M247 112h1.5M255 112h1.5M260 112h1.5M274 112h1.5M286 112h1.5M288 112h1.5M295 112h2.5M302 112h1.5M306 112h1.5M311 112h2.5M315 112h1.5M322 112h1.5M325 112h1.5M327 112h1.5M332 112h1.5M335 112h1.5M362 112h1.5M381 112h1.5M396 112h1.5M399 112h1.5M404 112h1.5M407 112h1.5M424 112h3.5M430 112h1.5M433 112h1.5M435 112h1.5M437 112h1.5M451 112h1.5M460 112h1.5M476 112h1.5M495 112h1.5M498 112h1.5M512 112h1.5M569 112h1.5M591 112h1.5M601 112h2.5M605 112h1.5M628 112h1.5M633 112h1.5M644 112h1.5M649 112h2.5M668 112h1.5M108 113h1.5M114 113h1.5M129 113h1.5M132 113h1.5M203 113h1.5M216 113h1.5M218 113h1.5M220 113h1.5M226 113h1.5M237 113h1.5M242 113h1.5M265 113h2.5M271 113h1.5M275 113h1.5M278 113h1.5M290 113h1.5M306 113h1.5M318 113h1.5M330 113h1.5M335 113h1.5M344 113h1.5M352 113h1.5M368 113h1.5M371 113h1.5M376 113h1.5M391 113h1.5M397 113h1.5M411 113h1.5M413 113h2.5M416 113h1.5M427 113h1.5M433 113h1.5M439 113h1.5M443 113h1.5M446 113h2.5M479 113h1.5M510 113h1.5M518 113h1.5M522 113h1.5M544 113h1.5M552 113h1.5M555 113h1.5M591 113h1.5M594 113h1.5M596 113h1.5M598 113h1.5M604 113h1.5M619 113h1.5M628 113h1.5M635 113h1.5M86 114h1.5M95 114h1.5M99 114h1.5M101 114h2.5M104 114h1.5M108 114h1.5M111 114h1.5M123 114h1.5M126 114h1.5M201 114h1.5M209 114h1.5M234 114h1.5M238 114h1.5M240 114h1.5M242 114h1.5M258 114h2.5M297 114h1.5M299 114h1.5M312 114h1.5M314 114h1.5M344 114h2.5M372 114h1.5M377 114h1.5M384 114h1.5M391 114h1.5M396 114h1.5M407 114h2.5M433 114h1.5M453 114h2.5M498 114h1.5M500 114h1.5M529 114h1.5M535 114h1.5M546 114h1.5M549 114h2.5M557 114h1.5M583 114h1.5M597 114h1.5M600 114h1.5M602 114h1.5M623 114h1.5M631 114h1.5M648 114h1.5M88 115h1.5M91 115h1.5M98 115h1.5M100 115h1.5M106 115h1.5M110 115h1.5M121 115h2.5M181 115h1.5M184 115h1.5M198 115h2.5M208 115h1.5M211 115h1.5M216 115h1.5M221 115h1.5M225 115h1.5M254 115h1.5M276 115h1.5M288 115h1.5M297 115h1.5M301 115h1.5M309 115h1.5M322 115h2.5M332 115h1.5M348 115h1.5M352 115h1.5M376 115h1.5M381 115h2.5M384 115h1.5M401 115h1.5M404 115h1.5M415 115h1.5M418 115h2.5M425 115h1.5M431 115h1.5M454 115h1.5M457 115h1.5M465 115h1.5M479 115h1.5M492 115h1.5M517 115h1.5M529 115h1.5M566 115h1.5M569 115h1.5M587 115h1.5M591 115h1.5M593 115h1.5M635 115h1.5M86 116h1.5M96 116h1.5M104 116h1.5M108 116h1.5M111 116h1.5M114 116h1.5M116 116h1.5M190 116h1.5M196 116h1.5M206 116h1.5M215 116h1.5M225 116h1.5M242 116h1.5M244 116h1.5M248 116h1.5M250 116h1.5M263 116h2.5M269 116h1.5M290 116h1.5M299 116h1.5M306 116h1.5M312 116h1.5M323 116h1.5M327 116h1.5M340 116h1.5M344 116h1.5M349 116h1.5M360 116h1.5M386 116h1.5M411 116h1.5M433 116h1.5M443 116h1.5M464 116h1.5M481 116h1.5M492 116h1.5M527 116h1.5M550 116h1.5M557 116h1.5M570 116h1.5M580 116h1.5M587 116h1.5M599 116h1.5M628 116h1.5M639 116h1.5M650 116h1.5M667 116h1.5M98 117h1.5M101 117h1.5M103 117h1.5M106 117h1.5M182 117h1.5M198 117h1.5M213 117h1.5M219 117h1.5M235 117h1.5M241 117h1.5M251 117h1.5M282 117h1.5M310 117h2.5M341 117h1.5M364 117h1.5M381 117h1.5M385 117h1.5M391 117h1.5M394 117h1.5M404 117h1.5M417 117h1.5M430 117h1.5M460 117h1.5M469 117h1.5M476 117h1.5M483 117h1.5M489 117h1.5M497 117h1.5M527 117h1.5M529 117h1.5M538 117h1.5M549 117h1.5M557 117h1.5M577 117h1.5M594 117h1.5M638 117h1.5M651 117h1.5M115 118h1.5M117 118h1.5M184 118h1.5M186 118h1.5M193 118h1.5M195 118h1.5M206 118h1.5M209 118h1.5M213 118h1.5M220 118h1.5M223 118h1.5M248 118h1.5M273 118h1.5M288 118h1.5M294 118h1.5M298 118h1.5M304 118h1.5M320 118h2.5M335 118h1.5M337 118h1.5M344 118h1.5M352 118h1.5M363 118h1.5M385 118h1.5M393 118h1.5M397 118h1.5M409 118h1.5M411 118h1.5M419 118h1.5M430 118h1.5M442 118h1.5M447 118h1.5M457 118h1.5M460 118h1.5M462 118h1.5M465 118h1.5M492 118h1.5M501 118h1.5M527 118h1.5M531 118h1.5M534 118h1.5M552 118h2.5M594 118h1.5M606 118h1.5M623 118h1.5M88 119h1.5M90 119h1.5M93 119h1.5M97 119h1.5M100 119h1.5M104 119h1.5M186 119h1.5M194 119h1.5M202 119h2.5M205 119h1.5M214 119h1.5M225 119h1.5M234 119h1.5M239 119h1.5M244 119h1.5M251 119h1.5M290 119h1.5M332 119h1.5M337 119h1.5M341 119h1.5M349 119h1.5M374 119h1.5M389 119h1.5M404 119h1.5M411 119h1.5M442 119h1.5M447 119h1.5M449 119h1.5M455 119h1.5M462 119h1.5M489 119h1.5M495 119h2.5M500 119h1.5M530 119h1.5M549 119h1.5M570 119h1.5M591 119h1.5M601 119h1.5M605 119h1.5M629 119h1.5M644 119h1.5M86 120h1.5M90 120h1.5M95 120h1.5M103 120h1.5M108 120h1.5M115 120h1.5M118 120h1.5M192 120h1.5M196 120h1.5M199 120h1.5M201 120h1.5M213 120h1.5M223 120h1.5M227 120h1.5M238 120h1.5M242 120h1.5M257 120h1.5M261 120h1.5M264 120h1.5M292 120h1.5M306 120h1.5M312 120h1.5M318 120h1.5M323 120h1.5M335 120h1.5M385 120h1.5M403 120h1.5M415 120h1.5M421 120h1.5M432 120h1.5M453 120h1.5M471 120h1.5M532 120h2.5M557 120h1.5M568 120h1.5M570 120h1.5M598 120h1.5M603 120h1.5M612 120h1.5M644 120h1.5M650 120h1.5M656 120h1.5M87 121h1.5M98 121h1.5M100 121h1.5M107 121h1.5M158 121h1.5M179 121h1.5M186 121h1.5M196 121h1.5M208 121h1.5M218 121h1.5M223 121h1.5M231 121h1.5M241 121h1.5M250 121h2.5M302 121h1.5M304 121h1.5M307 121h1.5M311 121h1.5M313 121h1.5M316 121h1.5M332 121h1.5M339 121h1.5M345 121h1.5M393 121h1.5M403 121h1.5M415 121h1.5M430 121h1.5M435 121h1.5M441 121h1.5M446 121h1.5M454 121h1.5M459 121h1.5M497 121h1.5M529 121h1.5M536 121h1.5M566 121h1.5M572 121h2.5M580 121h1.5M584 121h1.5M603 121h1.5M605 121h1.5M638 121h1.5M85 122h1.5M94 122h1.5M100 122h1.5M103 122h1.5M107 122h1.5M114 122h1.5M116 122h1.5M171 122h1.5M177 122h1.5M180 122h1.5M188 122h1.5M190 122h1.5M192 122h2.5M196 122h1.5M199 122h1.5M201 122h1.5M203 122h1.5M213 122h1.5M220 122h1.5M223 122h1.5M225 122h1.5M231 122h1.5M233 122h2.5M238 122h2.5M243 122h1.5M248 122h1.5M254 122h1.5M282 122h1.5M288 122h1.5M296 122h1.5M314 122h1.5M323 122h1.5M328 122h1.5M363 122h2.5M382 122h1.5M398 122h1.5M409 122h1.5M468 122h1.5M489 122h1.5M492 122h1.5M527 122h2.5M550 122h1.5M572 122h1.5M603 122h1.5M628 122h1.5M91 123h2.5M94 123h1.5M97 123h1.5M100 123h1.5M112 123h1.5M118 123h1.5M177 123h1.5M183 123h1.5M197 123h1.5M204 123h1.5M228 123h1.5M241 123h1.5M245 123h1.5M248 123h1.5M255 123h1.5M264 123h1.5M288 123h1.5M298 123h1.5M307 123h1.5M341 123h1.5M382 123h1.5M385 123h1.5M403 123h1.5M413 123h1.5M433 123h1.5M454 123h1.5M463 123h1.5M468 123h1.5M470 123h1.5M501 123h1.5M566 123h1.5M617 123h1.5M96 124h1.5M102 124h1.5M107 124h1.5M109 124h1.5M111 124h1.5M115 124h1.5M171 124h2.5M174 124h1.5M188 124h1.5M198 124h1.5M206 124h3.5M233 124h1.5M239 124h1.5M244 124h1.5M308 124h1.5M323 124h1.5M335 124h1.5M345 124h1.5M353 124h1.5M364 124h1.5M413 124h1.5M431 124h1.5M436 124h1.5M449 124h1.5M459 124h1.5M474 124h1.5M497 124h1.5M522 124h1.5M526 124h1.5M528 124h1.5M569 124h1.5M603 124h1.5M628 124h1.5M631 124h1.5M658 124h1.5M85 125h1.5M90 125h1.5M95 125h1.5M98 125h1.5M101 125h1.5M104 125h1.5M167 125h1.5M174 125h1.5M183 125h1.5M188 125h1.5M192 125h1.5M202 125h1.5M209 125h1.5M234 125h1.5M239 125h1.5M248 125h1.5M257 125h1.5M264 125h1.5M271 125h1.5M321 125h1.5M349 125h1.5M359 125h1.5M368 125h1.5M381 125h2.5M403 125h1.5M419 125h1.5M431 125h1.5M468 125h1.5M497 125h1.5M499 125h1.5M564 125h1.5M601 125h1.5M94 126h1.5M99 126h1.5M181 126h1.5M191 126h1.5M210 126h1.5M213 126h1.5M215 126h1.5M222 126h1.5M234 126h1.5M241 126h1.5M244 126h2.5M250 126h1.5M263 126h2.5M308 126h2.5M312 126h1.5M332 126h1.5M335 126h1.5M407 126h1.5M414 126h1.5M417 126h1.5M501 126h1.5M587 126h1.5M667 126h1.5M86 127h1.5M91 127h2.5M96 127h2.5M101 127h1.5M168 127h1.5M175 127h1.5M178 127h1.5M181 127h1.5M184 127h2.5M194 127h1.5M204 127h1.5M207 127h2.5M224 127h1.5M253 127h1.5M273 127h1.5M279 127h1.5M306 127h1.5M321 127h1.5M338 127h1.5M363 127h1.5M446 127h1.5M550 127h1.5M639 127h1.5M650 127h1.5M668 127h1.5M85 128h2.5M89 128h1.5M95 128h1.5M99 128h1.5M101 128h1.5M103 128h1.5M109 128h1.5M111 128h1.5M165 128h1.5M172 128h1.5M176 128h1.5M187 128h1.5M192 128h1.5M204 128h1.5M210 128h1.5M233 128h1.5M245 128h1.5M318 128h1.5M325 128h1.5M336 128h1.5M341 128h1.5M349 128h1.5M366 128h1.5M372 128h1.5M433 128h1.5M516 128h1.5M526 128h1.5M572 128h1.5M88 129h1.5M169 129h2.5M172 129h1.5M176 129h1.5M187 129h1.5M193 129h2.5M201 129h1.5M234 129h1.5M250 129h1.5M288 129h1.5M311 129h1.5M382 129h1.5M431 129h1.5M503 129h1.5M529 129h1.5M563 129h1.5M633 129h1.5M85 130h2.5M89 130h1.5M91 130h1.5M99 130h1.5M108 130h1.5M164 130h1.5M167 130h1.5M174 130h1.5M182 130h1.5M188 130h1.5M190 130h1.5M195 130h2.5M206 130h1.5M228 130h1.5M263 130h1.5M312 130h1.5M322 130h1.5M335 130h1.5M393 130h1.5M403 130h1.5M454 130h1.5M492 130h1.5M94 131h2.5M106 131h1.5M168 131h1.5M173 131h1.5M177 131h1.5M180 131h2.5M188 131h1.5M192 131h1.5M210 131h2.5M241 131h1.5M251 131h1.5M322 131h1.5M344 131h1.5M419 131h1.5M457 131h1.5M468 131h1.5M478 131h1.5M546 131h1.5M565 131h1.5M619 131h1.5M628 131h1.5M656 131h1.5M93 132h1.5M174 132h1.5M192 132h1.5M199 132h1.5M214 132h1.5M218 132h1.5M220 132h2.5M228 132h1.5M234 132h1.5M238 132h1.5M250 132h1.5M257 132h1.5M306 132h2.5M318 132h1.5M335 132h1.5M385 132h1.5M411 132h1.5M430 132h1.5M492 132h1.5M498 132h1.5M609 132h1.5M87 133h1.5M94 133h1.5M96 133h1.5M127 133h1.5M162 133h1.5M164 133h1.5M166 133h4.5M173 133h1.5M182 133h1.5M189 133h1.5M192 133h1.5M217 133h1.5M261 133h1.5M306 133h1.5M338 133h1.5M344 133h1.5M364 133h1.5M403 133h1.5M452 133h1.5M492 133h1.5M630 133h1.5M85 134h1.5M93 134h1.5M173 134h1.5M178 134h1.5M180 134h1.5M195 134h1.5M211 134h1.5M219 134h1.5M288 134h1.5M309 134h1.5M311 134h1.5M327 134h1.5M415 134h1.5M460 134h1.5M586 134h1.5M625 134h1.5M663 134h1.5M85 135h1.5M95 135h1.5M165 135h1.5M167 135h2.5M173 135h1.5M180 135h1.5M184 135h1.5M250 135h1.5M264 135h1.5M296 135h1.5M313 135h1.5M333 135h1.5M346 135h1.5M368 135h1.5M468 135h1.5M501 135h1.5M520 135h1.5M638 135h1.5M86 136h1.5M89 136h1.5M104 136h2.5M162 136h1.5M164 136h1.5M170 136h1.5M178 136h1.5M204 136h1.5M210 136h1.5M241 136h1.5M288 136h1.5M321 136h1.5M333 136h1.5M359 136h1.5M392 136h1.5M411 136h1.5M472 136h1.5M489 136h1.5M576 136h1.5M87 137h1.5M92 137h1.5M95 137h1.5M159 137h1.5M168 137h1.5M170 137h1.5M183 137h1.5M194 137h1.5M207 137h1.5M248 137h1.5M250 137h1.5M341 137h1.5M392 137h1.5M419 137h1.5M431 137h1.5M433 137h1.5M489 137h1.5M612 137h1.5M656 137h1.5M85 138h1.5M90 138h1.5M159 138h1.5M163 138h1.5M165 138h1.5M173 138h1.5M177 138h1.5M187 138h1.5M191 138h1.5M241 138h1.5M250 138h1.5M306 138h1.5M469 138h1.5M474 138h1.5M489 138h1.5M531 138h1.5M628 138h1.5M85 139h1.5M95 139h1.5M162 139h1.5M169 139h1.5M176 139h1.5M178 139h1.5M180 139h1.5M182 139h1.5M194 139h1.5M197 139h1.5M207 139h1.5M213 139h1.5M250 139h1.5M335 139h1.5M385 139h2.5M403 139h1.5M419 139h1.5M459 139h1.5M468 139h1.5M529 139h1.5M634 139h1.5M93 140h1.5M95 140h1.5M100 140h1.5M167 140h1.5M170 140h1.5M184 140h1.5M188 140h1.5M199 140h1.5M206 140h1.5M217 140h1.5M242 140h1.5M312 140h1.5M318 140h1.5M342 140h1.5M360 140h1.5M400 140h1.5M413 140h1.5M508 140h1.5M520 140h1.5M531 140h1.5M85 141h1.5M97 141h1.5M113 141h1.5M165 141h1.5M181 141h1.5M194 141h2.5M208 141h1.5M214 141h1.5M216 141h1.5M232 141h1.5M238 141h1.5M243 141h1.5M314 141h1.5M321 141h1.5M323 141h1.5M429 141h1.5M481 141h1.5M580 141h1.5M89 142h1.5M92 142h1.5M97 142h1.5M99 142h1.5M103 142h1.5M162 142h1.5M167 142h1.5M172 142h1.5M177 142h1.5M180 142h1.5M209 142h1.5M216 142h1.5M221 142h1.5M241 142h1.5M257 142h1.5M311 142h2.5M447 142h1.5M453 142h1.5M549 142h1.5M568 142h1.5M602 142h1.5M638 142h1.5M97 143h1.5M114 143h1.5M160 143h1.5M164 143h1.5M173 143h1.5M175 143h1.5M177 143h1.5M210 143h1.5M228 143h1.5M241 143h1.5M250 143h1.5M345 143h1.5M385 143h1.5M401 143h1.5M419 143h1.5M90 144h2.5M162 144h1.5M166 144h1.5M168 144h1.5M171 144h1.5M181 144h1.5M194 144h1.5M200 144h1.5M368 144h1.5M644 144h1.5M661 144h1.5M85 145h1.5M88 145h1.5M156 145h1.5M163 145h1.5M172 145h1.5M194 145h1.5M207 145h1.5M210 145h1.5M460 145h1.5M631 145h1.5M91 146h1.5M130 146h1.5M156 146h1.5M162 146h1.5M183 146h1.5M188 146h1.5M250 146h1.5M311 146h1.5M424 146h1.5M469 146h1.5M492 146h1.5M86 147h1.5M89 147h1.5M158 147h1.5M163 147h1.5M169 147h1.5M172 147h1.5M174 147h1.5M205 147h1.5M238 147h1.5M302 147h1.5M309 147h1.5M430 147h1.5M102 148h1.5M122 148h1.5M125 148h1.5M159 148h1.5M163 148h1.5M166 148h1.5M169 148h1.5M363 148h1.5M549 148h1.5M649 148h1.5M85 149h1.5M91 149h1.5M154 149h1.5M161 149h1.5M170 149h1.5M174 149h1.5M210 149h1.5M240 149h1.5M331 149h1.5M489 149h1.5M650 149h1.5M156 150h1.5M159 150h1.5M170 150h1.5M178 150h1.5M183 150h1.5M238 150h1.5M243 150h1.5M263 150h1.5M318 150h1.5M627 150h1.5M86 151h1.5M154 151h1.5M158 151h1.5M161 151h2.5M167 151h2.5M181 151h1.5M187 151h1.5M190 151h1.5M219 151h1.5M227 151h1.5M356 151h1.5M443 151h1.5M487 151h1.5M532 151h1.5M568 151h1.5M89 152h1.5M126 152h1.5M157 152h1.5M238 152h1.5M325 152h1.5M345 152h1.5M385 152h1.5M447 152h1.5M85 153h1.5M87 153h1.5M151 153h1.5M157 153h1.5M166 153h1.5M174 153h1.5M188 153h1.5M214 153h1.5M238 153h1.5M343 153h1.5M91 154h1.5M153 154h1.5M156 154h1.5M159 154h1.5M161 154h1.5M218 154h1.5M245 154h1.5M433 154h1.5M468 154h1.5M158 155h1.5M200 155h1.5M204 155h1.5M92 156h1.5M159 156h1.5M202 156h1.5M209 156h1.5M355 156h1.5M460 156h1.5M468 156h1.5M116 157h1.5M126 157h1.5M152 157h1.5M159 157h1.5M166 157h1.5M168 157h1.5M189 157h1.5M202 157h1.5M227 157h1.5M230 157h1.5M394 157h1.5M85 158h1.5M155 158h1.5M162 158h1.5M167 158h1.5M241 158h1.5M306 158h1.5M426 158h1.5M634 158h1.5M87 159h1.5M107 159h1.5M122 159h1.5M206 159h1.5M250 159h1.5M501 159h1.5M559 159h1.5M85 160h1.5M165 160h1.5M205 160h1.5M240 160h1.5M352 160h1.5M361 160h1.5M145 161h1.5M147 161h1.5M154 161h1.5M173 161h1.5M176 161h1.5M192 161h1.5M250 161h1.5M356 161h1.5M403 161h1.5M408 161h1.5M147 162h1.5M157 162h1.5M171 162h1.5M205 162h1.5M207 162h1.5M145 163h1.5M147 163h1.5M149 163h2.5M153 163h1.5M155 163h1.5M162 163h1.5M204 163h1.5M218 163h1.5M125 164h1.5M143 164h1.5M145 164h1.5M152 164h1.5M155 164h1.5M157 164h1.5M159 164h1.5M321 164h1.5M478 164h1.5M124 165h1.5M139 165h1.5M145 165h1.5M155 165h1.5M175 165h1.5M635 165h1.5M89 166h1.5M92 166h1.5M112 166h1.5M148 166h1.5M151 166h1.5M166 166h1.5M96 167h1.5M153 167h1.5M183 167h1.5M188 167h1.5M153 168h1.5M156 168h1.5M159 168h1.5M167 168h1.5M308 168h1.5M427 168h1.5M146 169h1.5M156 169h1.5M206 169h1.5M215 169h1.5M151 170h1.5M175 170h1.5M274 170h1.5M406 170h1.5M93 171h1.5M126 171h1.5M149 171h1.5M208 171h1.5M345 171h1.5M407 171h1.5M436 171h1.5M150 172h4.5M171 172h1.5M238 172h1.5M93 173h2.5M114 173h1.5M154 173h1.5M178 173h1.5M190 173h1.5M206 173h1.5M321 173h1.5M160 174h1.5M169 174h1.5M145 175h1.5M148 175h1.5M155 175h2.5M162 175h1.5M167 175h1.5M206 175h1.5M215 175h1.5M85 176h1.5M107 176h1.5M180 176h1.5M209 176h1.5M143 177h1.5M152 177h1.5M376 177h1.5M91 178h1.5M129 178h1.5M142 178h1.5M144 178h1.5M146 178h1.5M153 178h1.5M161 178h1.5M163 178h1.5M172 178h1.5M318 178h1.5M85 179h1.5M162 179h1.5M164 179h1.5M207 179h1.5M306 179h1.5M141 180h2.5M146 180h1.5M160 180h1.5M209 180h1.5M86 181h1.5M137 181h1.5M145 181h2.5M184 181h1.5M132 182h1.5M134 182h1.5M140 182h1.5M142 182h2.5M149 182h1.5M163 182h1.5M555 182h1.5M108 183h1.5M113 183h1.5M136 183h1.5M138 183h1.5M140 183h1.5M149 183h1.5M167 183h1.5M205 183h1.5M382 183h1.5M89 184h1.5M135 184h1.5M137 184h1.5M145 184h1.5M151 184h1.5M178 184h1.5M146 185h1.5M148 185h1.5M150 185h2.5M86 186h1.5M88 186h1.5M136 186h2.5M141 186h2.5M156 186h1.5M165 186h1.5M86 187h1.5M138 187h1.5M144 187h1.5M152 187h2.5M156 187h1.5M191 187h1.5M219 187h1.5M546 187h1.5M136 188h1.5M152 188h1.5M156 188h1.5M176 188h1.5M141 189h1.5M154 189h1.5M189 189h1.5M138 190h1.5M146 190h1.5M148 190h1.5M159 190h1.5M182 190h1.5M138 191h1.5M145 191h1.5M148 191h1.5M155 191h1.5M208 191h1.5M431 191h1.5M142 192h2.5M146 192h1.5M148 192h1.5M149 193h1.5M166 193h1.5M137 194h1.5M142 194h1.5M146 194h2.5M152 194h1.5M261 194h1.5M85 195h1.5M135 195h1.5M149 195h2.5M141 196h1.5M153 196h1.5M160 196h1.5M175 196h1.5M135 197h1.5M137 197h2.5M145 197h1.5M152 197h1.5M169 197h1.5M85 198h1.5M91 198h1.5M140 198h1.5M142 198h1.5M147 198h1.5M151 198h1.5M157 198h1.5M85 199h1.5M134 199h2.5M143 200h1.5M153 200h1.5M156 200h2.5M159 200h1.5M145 201h1.5M151 201h2.5M481 201h1.5M483 201h1.5M137 202h1.5M140 202h1.5M157 202h1.5M142 203h1.5M147 203h1.5M157 203h1.5M196 203h1.5M138 204h1.5M143 204h2.5M146 204h2.5M156 204h1.5M184 204h1.5M208 204h1.5M85 205h1.5M135 205h1.5M85 206h1.5M87 206h1.5M139 206h1.5M142 206h1.5M157 206h1.5M209 206h1.5M161 207h1.5M170 207h1.5M85 208h1.5M142 208h1.5M147 208h1.5M150 208h1.5M188 208h1.5M85 209h1.5M91 209h1.5M250 209h1.5M133 210h1.5M136 210h1.5M138 210h1.5M141 210h1.5M206 210h1.5M133 211h1.5M154 211h1.5M133 212h1.5M143 212h1.5M85 213h1.5M134 213h1.5M137 213h1.5M139 213h1.5M141 213h1.5M189 213h1.5M208 213h1.5M134 214h1.5M136 214h1.5M129 215h1.5M132 215h1.5M85 216h1.5M104 216h1.5M129 216h1.5M144 216h1.5M90 217h1.5M117 217h1.5M135 217h1.5M139 217h1.5M146 217h1.5M206 217h1.5M85 218h1.5M133 218h1.5M142 218h1.5M150 218h1.5M206 218h1.5M126 219h1.5M138 219h1.5M142 219h1.5M153 219h1.5M124 220h1.5M129 220h1.5M132 220h1.5M136 220h1.5M155 220h1.5M191 220h1.5M129 221h1.5M134 221h1.5M139 221h1.5M142 221h2.5M125 222h1.5M127 222h1.5M130 222h1.5M132 222h1.5M141 223h1.5M207 223h1.5M553 223h1.5M89 224h1.5M91 224h1.5M129 224h1.5M131 224h1.5M143 224h1.5M85 225h1.5M130 225h1.5M135 225h1.5M141 225h1.5M207 225h1.5M85 226h1.5M128 226h1.5M137 227h1.5M144 227h1.5M529 227h1.5M130 228h1.5M133 228h1.5M135 228h1.5M201 229h1.5M124 230h1.5M200 230h1.5M90 231h1.5M122 231h1.5M127 231h1.5M134 231h1.5M132 232h1.5M134 232h1.5M139 232h1.5M123 233h1.5M125 233h1.5M137 233h1.5M152 233h1.5M126 234h1.5M128 234h1.5M132 234h1.5M137 234h1.5M142 234h1.5M145 234h1.5M138 235h1.5M235 235h1.5M132 236h1.5M212 236h1.5M129 237h2.5M140 237h1.5M128 238h1.5M134 238h1.5M134 239h1.5M127 240h1.5M132 240h1.5M150 240h1.5M164 240h1.5M120 241h1.5M122 241h1.5M130 241h1.5M134 241h1.5M140 241h1.5M113 242h1.5M118 242h2.5M125 242h2.5M137 242h1.5M146 242h1.5M151 242h1.5M158 242h1.5M135 243h1.5M117 244h1.5M122 244h1.5M124 244h1.5M129 244h1.5M133 244h1.5M178 244h1.5M205 244h1.5M119 245h1.5M122 245h1.5M124 245h1.5M126 245h2.5M130 245h1.5M144 245h1.5M155 245h1.5M206 245h1.5M85 246h1.5M116 246h1.5M124 246h1.5M130 246h1.5M136 246h1.5M143 246h1.5M126 247h1.5M129 247h1.5M93 248h1.5M116 248h1.5M118 248h1.5M121 248h1.5M129 248h1.5M136 248h1.5M139 248h1.5M116 249h1.5M125 249h1.5M127 249h1.5M130 249h1.5M85 250h1.5M87 250h1.5M114 250h1.5M120 250h1.5M126 250h1.5M130 250h1.5M134 250h1.5M138 250h1.5M117 251h1.5M124 251h1.5M138 251h1.5M162 251h1.5M87 252h1.5M117 252h1.5M124 252h1.5M127 252h1.5M142 252h1.5M97 253h1.5M112 253h1.5M130 253h1.5M123 254h1.5M128 254h1.5M139 254h1.5M97 255h1.5M109 255h2.5M114 255h1.5M116 255h1.5M207 255h1.5M99 256h1.5M119 256h1.5M129 256h1.5M135 256h2.5M86 257h1.5M88 257h1.5M112 257h1.5M114 257h1.5M117 257h1.5M125 257h1.5M99 258h1.5M110 258h1.5M115 258h1.5M118 258h1.5M120 258h1.5M122 258h1.5M131 258h1.5M112 259h1.5M122 259h1.5M124 259h1.5M140 259h1.5M85 260h1.5M113 260h1.5M116 260h1.5M120 260h1.5M129 260h1.5M146 260h1.5M110 261h1.5M116 261h1.5M121 261h1.5M126 261h1.5M112 262h2.5M123 262h1.5M126 262h1.5M130 262h1.5M133 262h1.5M145 262h1.5M206 262h1.5M106 263h1.5M108 263h1.5M171 263h1.5M112 264h1.5M122 264h1.5M129 265h1.5M101 266h1.5M109 266h1.5M112 266h1.5M118 266h1.5M120 266h1.5M123 266h1.5M126 266h1.5M131 266h1.5M100 267h1.5M122 267h1.5M130 267h1.5M98 268h1.5M109 268h1.5M112 268h1.5M114 268h1.5M118 268h1.5M124 268h2.5M136 268h1.5M99 269h1.5M102 269h1.5M110 269h1.5M97 270h1.5M106 270h1.5M108 270h1.5M115 270h2.5M124 270h2.5M127 270h1.5M152 270h1.5M89 271h1.5M94 271h1.5M98 271h1.5M106 271h1.5M113 271h1.5M131 271h1.5M134 271h1.5M96 272h1.5M98 272h1.5M107 272h2.5M122 272h1.5M124 272h1.5M139 272h1.5M222 272h1.5M101 273h3.5M110 273h2.5M113 273h2.5M129 273h1.5M95 274h1.5M97 274h1.5M100 274h1.5M107 274h1.5M109 274h1.5M122 274h1.5M124 274h1.5M137 274h1.5M98 275h1.5M105 275h1.5M113 275h1.5M117 275h1.5M85 276h1.5M97 276h1.5M106 276h1.5M116 276h1.5M89 277h1.5M93 277h1.5M118 277h1.5M127 277h2.5M131 277h1.5M97 278h1.5M116 278h1.5M122 278h1.5M128 278h1.5M99 279h1.5M105 279h1.5M125 279h1.5M140 279h1.5M85 280h1.5M90 280h1.5M96 280h1.5M102 280h1.5M107 280h1.5M112 280h1.5M135 280h1.5M141 280h1.5M86 281h1.5M90 281h1.5M92 281h1.5M103 281h1.5M107 281h1.5M110 281h2.5M113 281h1.5M92 282h1.5M94 282h2.5M108 282h1.5M124 282h1.5M131 282h1.5M98 283h1.5M104 283h1.5M128 283h1.5M140 283h1.5M86 284h1.5M88 284h1.5M96 284h1.5M98 284h2.5M207 284h1.5M92 285h1.5M121 285h1.5M132 285h1.5M90 286h1.5M94 286h1.5M131 286h1.5M124 287h1.5M87 288h1.5M124 289h1.5M133 289h1.5M114 290h1.5M88 291h1.5M127 291h1.5M116 292h1.5M145 292h1.5M100 293h1.5M153 293h1.5M93 294h1.5M128 294h1.5M110 295h1.5M119 296h1.5M118 297h1.5M130 297h1.5M115 302h1.5M124 313h1.5M127 321h1.5" stroke="#c2c2c2" stroke-width="1.45" fill="none"/><line x1="202" y1="47.8" x2="202" y2="340" stroke="#2a2a2a" stroke-width="1.6" stroke-dasharray="2,3.1"/><path d="M84.5,246.9 86.3,246.9 88.2,246.9 90.0,246.9 91.8,246.9 93.7,246.9 95.5,246.9 96.9,245.9 98.3,245.0 99.7,243.8 101.0,242.8 102.2,241.3 103.5,239.9 104.8,238.3 106.2,238.0 107.5,236.5 109.1,235.4 110.7,234.0 112.3,232.2 114.0,230.7 114.8,229.3 115.6,227.6 116.4,226.0 117.2,224.3 118.0,222.7 118.8,221.2 119.6,219.2 120.4,217.8 121.7,215.7 122.9,213.8 124.1,211.6 125.3,209.7 126.4,208.3 127.4,206.5 128.5,204.9 129.2,202.8 130.0,200.7 130.7,199.0 131.1,197.1 131.6,195.4 132.0,193.5 132.4,191.8 132.8,190.6 133.2,188.9 133.6,186.0 134.0,185.3 134.6,183.0 135.2,182.0 135.8,180.3 136.4,178.8 137.0,177.3 137.6,175.7 138.2,174.7 138.8,172.4 139.6,170.1 140.5,168.5 141.3,166.7 142.1,165.5 142.9,163.1 143.7,161.0 144.2,159.4 144.8,157.1 145.3,155.4 145.8,152.9 146.4,151.7 146.9,149.7 147.7,147.3 150.2,148.1 152.6,147.3 153.4,145.7 154.2,144.0 154.6,141.5 155.1,139.9 155.6,138.0 156.1,136.6 156.5,134.7 157.0,133.4 157.5,131.8 158.0,130.2 158.5,128.6 158.9,126.8 159.4,125.5 159.9,123.7 161.6,121.3 164.0,119.6 166.4,118.0 168.0,117.1 169.6,115.6 171.2,114.5 172.9,113.2 174.5,111.3 176.1,109.9 178.5,108.3 181.0,106.7 182.2,105.8 183.4,104.3 185.8,103.5 187.4,104.2 189.9,105.8 192.3,107.4 194.7,106.6 195.9,104.4 197.1,102.6 198.3,101.7 199.6,100.2 201.2,99.8 202.8,100.2 204.4,100.1 206.0,99.4 207.2,97.7 208.5,96.1 209.7,94.1 210.9,92.9 212.1,90.7 213.3,88.8 214.5,87.2 215.7,85.6 217.3,84.5 219.0,83.2 222.2,83.2 223.8,82.5 225.5,82.4 227.1,81.2 228.7,80.7 230.3,80.0 231.9,79.1 233.6,78.5 235.2,78.3 236.8,78.8 238.4,79.1 240.0,79.0 241.6,78.3 243.2,78.1 244.9,79.1 246.5,79.1 248.1,79.0 249.7,80.6 251.3,81.4 252.9,82.1 254.6,83.0 256.2,82.5 257.8,82.9 259.4,82.5 261.0,82.2 262.7,82.1 264.3,81.4 265.9,81.5 267.5,81.4 269.1,82.2 270.7,82.7 272.4,83.1 274.0,83.8 275.6,85.2 277.2,86.1 278.8,87.1 281.3,88.4 283.7,87.1 284.8,85.2 285.8,83.9 286.9,83.0 288.5,81.7 290.2,79.8 291.8,79.8 293.4,79.3 295.0,79.4 296.7,80.0 298.3,80.3 299.9,81.1 301.5,81.8 303.1,82.6 304.7,83.0 306.1,84.0 307.4,84.8 308.8,85.8 311.2,84.6 312.8,83.4 314.4,82.8 316.0,81.4 317.6,79.8 319.3,79.8 320.9,79.0 322.5,78.3 324.1,77.2 325.7,77.0 327.4,78.3 329.0,79.3 330.6,78.1 332.2,77.4 333.8,77.0 335.5,76.0 337.1,75.4 338.7,76.4 340.3,77.0 341.9,77.6 343.5,77.4 345.1,78.2 346.8,78.4 348.4,79.3 350.0,79.3 351.6,80.3 353.2,81.0 354.9,80.5 356.5,80.8 358.1,80.9 359.7,81.4 361.3,81.2 363.0,80.8 364.6,80.6 366.6,80.5 368.6,79.8 370.6,81.0 372.7,82.2 374.3,82.7 375.9,83.0 377.5,83.8 379.1,84.0 380.8,83.4 382.4,83.8 384.0,83.2 385.6,82.7 387.2,81.4 388.6,79.8 389.9,78.4 391.3,78.2 392.6,77.5 394.0,77.2 395.3,75.4 396.9,74.8 398.5,74.9 400.1,75.3 401.8,76.6 404.2,78.2 405.8,77.6 407.4,76.6 409.9,75.9 412.3,74.4 414.3,74.4 416.3,74.9 417.9,75.3 419.6,75.9 421.2,76.6 422.8,77.5 424.4,77.9 426.0,78.7 427.6,78.9 429.3,79.0 430.9,78.4 432.5,77.6 434.1,77.4 435.7,76.9 437.4,76.2 439.0,76.1 441.4,74.9 443.0,76.2 444.6,77.4 446.6,77.4 448.7,78.2 450.7,77.2 452.7,77.0 454.8,78.1 456.8,78.2 458.4,78.7 460.0,79.2 461.6,79.8 463.2,78.9 464.9,77.6 466.5,76.6 468.1,75.7 469.7,74.9 471.3,75.6 473.0,76.1 474.6,76.6 476.2,77.0 477.8,78.5 479.4,79.0 481.0,78.1 482.7,77.3 484.3,77.0 485.9,77.1 487.5,77.7 489.1,78.2 490.7,79.5 492.4,79.2 494.0,80.3 495.6,81.5 497.2,81.9 498.8,83.8 500.4,83.0 502.1,82.5 503.7,81.4 505.3,81.1 506.9,80.6 508.5,80.6 510.1,79.9 511.8,79.2 513.4,78.2 515.0,77.8 516.7,77.7 518.3,76.4 519.9,76.7 521.5,76.7 523.1,77.1 524.7,77.4 526.3,76.9 528.0,76.6 529.6,76.1 531.2,76.5 532.8,77.0 534.4,77.4 536.0,77.3 537.7,78.8 539.3,79.0 540.9,79.1 542.5,79.1 544.1,79.8 545.7,79.5 547.4,79.2 549.0,78.2 550.6,78.7 552.2,79.0 553.8,79.3 555.4,79.5 557.1,81.4 558.7,80.9 560.3,81.6 561.9,81.4 563.5,82.2 565.1,81.1 566.8,80.6 568.4,79.8 570.0,79.8 571.7,80.9 573.3,81.4 574.9,81.2 576.5,81.8 578.1,81.7 579.7,81.4 581.3,81.0 583.0,82.5 584.6,83.0 586.2,81.9 587.8,82.3 589.4,81.4 591.0,81.1 592.7,80.9 594.3,80.3 595.9,80.8 597.5,82.7 599.1,83.0 600.7,84.2 602.4,83.7 604.0,84.6 605.6,84.5 607.2,83.8 608.8,83.8 610.4,83.7 612.1,83.2 613.7,83.5 615.3,83.6 616.9,82.1 618.5,81.9 620.1,80.9 621.8,80.3 623.4,79.3 625.0,79.1 626.6,79.3 628.2,78.9 629.9,78.7 631.5,78.9 633.1,79.4 634.7,79.8 636.3,79.7 638.0,80.2 639.6,80.6 641.2,80.1 642.8,79.6 644.4,79.3 646.5,78.8 648.5,78.2 650.5,78.6 652.5,79.3 654.1,79.9 655.8,79.9 657.4,80.3 659.0,80.5 660.6,80.5 662.2,80.9 663.9,81.2 665.5,81.9 667.8,81.2 670.0,81.4" stroke="#58702f" stroke-width="2.1" fill="none" stroke-linejoin="round"/><path d="M84.5,246.9 86.3,246.9 88.2,246.9 90.0,246.9 91.8,246.9 93.7,246.9 95.5,246.9 96.9,245.9 98.3,244.9 99.7,243.8 101.0,242.3 102.2,241.1 103.5,239.9 104.9,237.8 106.3,238.0 107.7,236.5 109.1,234.8 109.9,233.3 110.8,232.2 111.6,230.6 112.4,229.1 113.2,227.3 114.0,226.2 114.8,224.2 115.6,222.7 116.2,221.0 116.8,219.2 117.4,218.0 118.0,216.2 118.4,214.5 118.8,213.1 119.2,211.1 119.6,209.7 120.4,208.1 121.3,206.5 123.7,204.9 124.2,202.6 124.6,201.3 125.1,199.0 126.7,197.9 128.3,196.6 129.9,195.0 130.1,193.5 130.3,191.9 130.5,189.8 130.7,188.5 131.0,187.2 131.4,186.0 131.7,183.1 132.1,181.5 132.4,180.5 132.9,178.3 133.5,177.5 134.0,175.6 134.6,174.0 135.2,172.7 135.8,171.0 136.4,169.1 136.9,167.6 137.5,166.0 138.0,164.3 138.4,162.6 138.8,161.4 139.2,159.0 139.6,157.8 140.2,155.8 140.7,154.1 141.3,152.1 142.1,150.7 142.9,148.1 143.4,146.2 144.0,144.5 144.5,143.2 145.3,140.9 146.2,139.0 147.0,137.3 147.8,135.0 150.2,133.4 151.4,131.7 152.7,130.2 153.0,129.0 153.3,126.3 153.7,125.7 154.0,124.1 154.3,122.1 154.6,120.0 154.9,118.9 155.3,117.7 155.6,115.7 155.9,114.0 156.2,112.7 156.5,111.6 156.9,109.2 157.2,107.4 157.5,105.9 158.3,104.0 159.1,102.9 159.9,101.0 162.4,99.4 164.8,98.6 167.2,99.4 169.6,97.8 171.3,95.4 173.7,96.2 174.9,94.5 176.1,92.9 177.3,91.6 178.5,90.5 179.8,89.3 181.0,88.1 183.4,86.5 185.5,84.4 187.4,84.0 188.7,85.8 189.9,87.2 191.1,88.5 192.3,90.5 194.7,92.1 195.9,89.9 197.1,88.8 197.9,85.9 198.8,84.8 201.2,84.8 203.6,84.0 206.0,84.0 206.8,83.1 207.7,81.3 208.5,79.9 209.3,78.8 210.1,76.7 210.9,75.1 212.1,73.2 213.3,71.8 215.7,70.2 217.3,70.0 219.0,69.4 220.6,69.8 222.2,70.2 223.8,70.2 225.5,71.0 227.1,69.9 228.7,69.4 230.3,69.6 231.9,68.6 233.6,68.3 235.2,67.8 236.8,67.9 238.4,67.8 240.0,67.3 241.6,67.0 243.2,66.9 244.9,67.2 246.5,67.7 248.1,67.5 249.7,67.7 251.3,67.5 253.0,67.9 254.6,68.0 256.2,67.6 257.8,67.9 259.4,67.7 261.0,68.1 262.7,67.4 264.3,67.7 265.9,68.7 267.5,68.5 269.1,69.3 270.7,69.8 272.4,69.9 274.0,70.6 275.6,70.7 277.2,71.0 278.8,71.2 280.5,70.9 282.1,70.9 283.7,69.9 285.3,69.3 286.9,67.8 288.5,66.8 290.1,66.2 291.8,65.7 293.4,66.0 295.0,66.0 296.7,66.3 298.3,66.2 299.9,66.9 301.5,67.2 303.1,68.2 304.7,67.7 306.3,68.3 308.0,68.6 309.6,69.3 311.2,69.4 312.8,67.9 314.4,67.7 316.0,67.6 317.7,66.5 319.3,66.4 320.9,66.3 322.5,65.2 324.1,65.7 325.7,66.5 327.4,66.7 329.0,67.3 330.6,66.5 332.2,67.0 333.8,66.0 335.4,66.2 337.1,65.8 338.7,65.7 340.3,65.7 341.9,66.2 343.5,66.4 345.1,66.8 346.8,67.5 348.4,67.7 350.8,68.9 352.9,68.1 354.9,66.8 356.5,66.7 358.1,66.9 359.7,67.3 361.3,67.2 363.0,67.1 364.6,67.7 366.2,66.9 367.8,66.5 369.4,66.0 371.0,66.2 372.7,66.5 374.3,66.0 375.9,66.0 377.5,66.7 379.1,66.8 380.7,66.9 382.4,68.1 384.0,67.7 385.6,67.1 387.2,66.7 388.8,66.0 390.4,64.9 392.1,64.1 393.7,63.6 395.3,63.3 396.9,62.7 398.5,62.5 400.1,63.4 401.8,64.1 403.4,64.0 405.0,64.9 406.6,64.7 408.3,63.7 409.9,63.6 411.5,64.0 413.1,63.2 414.7,63.1 416.3,63.7 418.0,62.9 419.6,63.6 421.2,64.1 422.8,64.0 424.4,64.7 426.4,65.2 428.5,66.0 430.5,65.4 432.5,64.7 434.1,64.6 435.8,64.8 437.4,64.7 439.0,65.1 440.6,65.3 442.2,65.2 443.8,65.3 445.5,65.1 447.1,65.7 448.7,64.7 450.3,64.2 451.9,63.6 453.5,63.0 455.2,64.2 456.8,64.1 458.4,64.1 460.0,64.2 461.6,64.4 463.2,64.2 464.9,63.3 466.5,63.3 468.1,62.8 469.7,62.5 471.3,62.0 473.0,62.3 474.6,62.0 476.2,62.5 477.8,62.4 479.4,63.1 481.0,63.1 482.7,62.5 484.3,62.0 485.9,61.5 487.5,62.4 489.1,62.5 490.7,62.6 492.4,64.0 494.0,64.1 495.6,64.6 497.2,64.1 498.8,64.7 500.4,64.6 502.1,65.1 503.7,65.2 505.3,64.9 506.9,65.4 508.5,64.7 510.1,64.8 511.8,64.2 513.4,64.1 515.0,64.4 516.7,63.5 518.3,64.3 519.9,64.4 521.5,64.5 523.1,64.1 524.7,64.1 526.3,63.7 527.9,64.0 529.5,64.3 531.2,63.5 532.8,62.9 534.4,63.1 536.0,63.6 537.6,62.3 539.2,63.1 540.9,62.7 542.5,63.2 544.1,62.8 545.7,62.6 547.3,63.4 549.0,63.1 550.6,62.4 552.2,62.4 553.8,63.1 555.4,63.1 557.0,63.7 558.6,63.4 560.3,63.5 561.9,63.4 563.5,63.6 565.1,63.7 566.8,63.4 568.4,63.1 570.0,63.0 571.6,62.4 573.3,62.9 574.9,62.3 576.5,62.8 578.1,62.0 579.7,62.5 581.3,63.5 583.0,63.2 584.6,63.1 586.2,62.7 587.8,62.0 589.4,62.5 591.0,62.9 592.6,63.1 594.2,62.8 595.9,62.6 597.5,63.8 599.1,63.6 600.7,63.3 602.3,63.3 604.0,64.3 605.6,64.0 607.2,63.5 608.8,63.1 610.4,62.8 612.0,63.0 613.6,61.8 615.3,62.4 616.9,61.9 618.5,62.0 620.1,61.7 621.8,61.7 623.4,62.6 625.0,62.5 626.6,62.6 628.2,62.7 629.9,62.9 631.5,62.4 633.1,62.3 634.7,62.8 636.3,62.1 637.9,62.6 639.5,62.9 641.2,62.5 642.8,62.8 644.4,62.5 646.0,62.2 647.6,62.6 649.3,62.7 650.9,63.1 652.5,62.6 654.1,63.6 655.8,63.2 657.4,62.8 659.0,62.8 660.6,63.1 662.2,63.6 664.2,63.6 666.1,63.1 668.0,63.8 670.0,63.6" stroke="#03039a" stroke-width="2.1" fill="none" stroke-linejoin="round"/><path d="M84.5,229.6 86.2,229.6 87.9,229.6 89.6,229.6 90.5,228.7 91.3,225.5 92.2,224.8 93.3,223.3 94.5,221.5 95.9,220.2 97.3,219.3 98.2,217.6 99.2,216.1 100.1,213.9 101.0,213.0 101.8,210.9 102.6,208.9 103.1,206.7 103.5,206.3 104.0,203.2 104.5,201.2 104.9,199.0 105.7,197.0 106.5,195.2 107.3,193.4 108.1,191.5 108.9,189.8 109.7,188.5 112.1,186.9 112.7,185.2 113.3,183.9 114.0,182.0 114.6,180.5 115.1,179.2 115.7,177.2 116.2,175.6 117.8,174.0 118.3,172.1 118.9,170.7 119.4,168.3 119.8,166.7 120.2,164.5 120.6,162.8 121.0,161.0 122.7,160.2 124.3,161.0 124.8,159.3 125.4,157.9 125.9,155.4 127.5,157.0 128.7,158.1 129.9,159.4 130.8,157.7 131.6,156.2 132.4,154.9 133.2,152.6 134.0,151.3 134.8,149.6 135.6,148.4 136.4,146.5 137.6,144.7 138.8,142.4 139.7,139.9 140.2,138.3 140.7,136.9 141.1,134.1 141.6,133.8 142.1,131.8 142.6,129.8 143.1,128.0 143.6,127.0 144.1,125.6 144.6,123.7 145.2,121.9 145.8,120.1 146.4,118.8 147.0,117.2 148.2,115.6 149.4,114.0 151.8,112.4 152.3,111.3 152.8,109.4 153.3,107.6 153.8,106.3 154.3,104.3 154.6,102.6 154.9,100.7 155.3,99.6 155.6,98.0 155.9,96.2 156.3,94.5 156.7,92.7 157.1,91.4 157.5,89.7 158.3,86.8 159.1,85.7 161.6,84.0 164.0,83.2 166.4,84.0 168.8,83.2 171.3,82.4 173.7,83.2 175.3,81.6 177.7,80.8 180.2,80.0 181.4,79.0 182.6,77.5 185.0,75.9 187.4,75.1 188.7,76.9 189.9,78.3 191.1,78.9 192.3,80.7 194.7,82.4 195.9,81.2 197.1,79.9 197.9,78.0 198.8,76.7 201.2,75.9 203.6,76.2 206.0,75.1 207.7,72.7 208.9,71.3 210.1,69.4 211.3,67.5 212.5,67.0 214.1,66.1 215.7,65.9 217.3,65.9 219.0,65.4 220.6,66.2 222.2,66.2 223.8,65.3 225.5,65.9 227.1,65.5 228.7,65.4 230.3,64.9 231.9,64.2 233.6,63.8 235.2,63.8 236.8,64.4 238.4,63.8 240.0,63.1 241.6,63.3 243.2,63.6 244.9,63.6 246.5,63.4 248.1,64.4 249.7,64.1 251.3,64.1 253.0,64.0 254.6,64.1 256.2,63.3 257.8,64.4 259.4,63.6 261.0,63.9 262.7,63.9 264.3,63.6 265.9,64.2 267.5,64.1 269.1,64.1 270.7,64.2 272.4,64.6 274.0,65.2 275.6,65.1 277.2,66.0 278.8,65.7 280.4,65.0 282.1,65.2 283.7,65.2 285.3,64.2 286.9,63.5 288.5,62.5 290.1,62.8 291.8,62.3 293.4,62.8 295.0,62.5 296.7,63.3 298.3,63.6 299.9,64.2 301.5,64.3 303.1,64.3 304.7,64.4 306.3,64.7 308.0,65.4 309.6,65.7 311.2,65.1 312.8,64.9 314.4,64.1 316.0,63.4 317.7,63.3 319.3,62.8 320.9,62.7 322.5,62.8 324.1,62.5 325.7,63.1 327.4,64.5 329.0,64.1 330.6,64.3 332.2,64.0 333.8,63.1 335.4,62.3 337.1,62.8 338.7,62.8 340.3,62.7 341.9,63.2 343.5,63.1 345.1,62.7 346.8,64.4 348.4,64.4 350.0,65.2 351.6,65.2 353.2,63.9 354.9,63.6 356.5,63.4 358.1,63.7 359.7,64.1 361.3,63.9 363.0,64.0 364.6,63.6 366.2,64.0 367.8,62.8 369.4,62.5 371.0,62.9 372.7,62.8 374.3,62.8 375.9,63.7 377.5,63.6 379.1,63.6 380.7,64.2 382.4,63.6 384.0,64.1 385.6,63.7 387.2,63.1 388.8,63.1 390.4,63.3 392.1,62.6 393.7,62.0 395.3,61.6 396.9,61.3 398.5,61.2 400.1,62.0 401.8,62.5 403.4,62.4 405.0,62.8 406.6,61.9 408.3,61.9 409.9,61.2 411.5,62.0 413.1,60.9 414.7,60.9 416.3,60.9 418.0,60.9 419.6,61.5 421.2,61.4 422.8,62.4 424.4,62.5 426.0,62.9 427.7,62.7 429.3,62.8 430.9,62.8 432.5,62.6 434.1,62.5 435.7,62.4 437.4,61.6 439.0,62.0 440.6,62.0 442.2,62.4 443.8,62.5 445.4,62.2 447.1,62.3 448.7,62.5 450.3,61.8 451.9,61.5 453.5,61.2 455.1,61.6 456.8,61.3 458.4,61.5 460.0,61.3 461.7,61.6 463.3,61.2 464.9,61.2 466.5,61.4 468.1,59.9 469.7,60.4 471.3,60.9 473.0,60.6 474.6,60.9 476.2,61.0 477.8,61.4 479.4,61.2 481.0,61.5 482.7,61.4 484.3,60.9 485.9,61.1 487.5,61.7 489.1,61.2 490.7,61.5 492.4,62.0 494.0,62.5 495.6,62.8 497.2,62.3 498.8,62.5 500.4,63.5 502.1,63.3 503.7,63.1 505.3,63.9 506.9,63.1 508.5,63.1 510.1,62.9 511.8,63.0 513.4,62.8 515.0,62.9 516.7,62.2 518.3,62.2 519.9,62.3 521.5,62.1 523.1,62.6 524.7,62.0 526.3,61.6 527.9,62.1 529.5,61.4 531.2,61.1 532.8,61.1 534.4,61.2 536.0,60.7 537.6,61.2 539.2,61.4 540.9,61.1 542.5,61.2 544.1,60.9 545.7,61.5 547.3,61.1 549.0,61.1 550.6,61.0 552.2,60.6 553.8,61.2 555.4,61.5 557.0,60.6 558.6,61.4 560.3,61.2 561.9,61.6 563.5,61.2 565.1,61.1 566.8,60.7 568.4,61.1 570.0,60.7 571.6,60.7 573.3,60.7 574.9,60.6 576.5,60.7 578.1,60.7 579.7,60.9 581.3,60.6 582.9,60.8 584.5,60.2 586.2,60.8 587.8,60.5 589.4,60.9 591.0,61.4 592.6,61.5 594.2,60.5 595.9,61.4 597.5,61.4 599.1,61.5 600.7,61.1 602.3,61.7 604.0,61.3 605.6,60.9 607.2,61.4 608.8,61.5 610.4,61.3 612.0,61.2 613.6,60.5 615.3,61.0 616.9,60.8 618.5,60.4 620.1,60.1 621.8,60.3 623.4,60.6 625.0,60.5 626.6,61.4 628.3,60.9 629.9,60.9 631.5,60.6 633.1,60.8 634.7,61.2 636.3,61.1 637.9,61.9 639.5,61.0 641.2,61.0 642.8,61.1 644.4,60.9 646.0,60.9 647.6,61.8 649.2,60.9 650.9,61.4 652.5,61.2 654.1,61.2 655.7,61.4 657.3,60.8 659.0,61.8 660.6,61.2 662.2,61.2 663.8,61.2 665.9,61.0 667.9,61.1 670.0,61.5" stroke="#900202" stroke-width="2.1" fill="none" stroke-linejoin="round"/><path d="M104.5,326.0 104.6,324.1 104.6,322.4 104.7,320.6 104.9,319.3 105.1,317.5 105.3,315.8 105.8,313.6 106.2,312.1 106.5,310.1 106.8,308.0 107.1,306.1 107.4,304.1 107.8,301.7 108.1,300.0 108.3,298.1 108.4,296.2 108.6,294.5 108.8,292.3 109.1,290.7 109.3,289.0 109.6,287.2 110.4,286.2 111.2,287.5 111.5,285.2 111.8,283.4 112.3,281.7 112.9,279.1 113.4,276.6 113.9,274.8 114.2,273.2 114.4,271.1 114.7,269.4 115.0,267.4 115.3,265.7 115.6,264.0 116.0,262.3 116.4,260.8 116.8,262.5 117.2,264.0 117.3,265.9 117.5,268.1 117.6,269.3 117.7,271.6 117.8,273.5 117.9,275.2 118.1,277.4 118.2,278.7 118.3,281.0 118.4,279.1 118.5,277.4 118.7,275.3 118.8,274.0 118.9,272.0 119.0,270.3 119.1,268.7 119.2,266.9 119.3,264.8 119.4,263.1 119.5,261.5 119.6,259.9 119.7,258.0 119.8,256.6 120.0,254.7 120.1,253.1 120.3,251.4 120.4,250.0 120.6,248.2 120.8,246.5 121.1,244.8 121.3,243.1 122.6,241.1 124.0,242.4 124.7,244.5 125.3,245.8 126.7,248.5 127.0,250.1 127.3,251.8 127.7,253.6 128.0,255.2 128.2,256.7 128.3,258.5 128.5,260.3 128.7,262.0 128.8,263.8 129.0,264.9 129.1,267.1 129.3,268.3 129.4,270.0 129.5,271.7 129.6,273.4 129.6,275.0 129.7,276.7 129.8,278.1 129.9,279.8 130.0,281.3 130.2,283.0 130.3,284.4 130.4,286.2 130.7,288.5 131.1,290.1 131.4,292.3 132.1,293.7 132.8,296.0 133.5,297.3 134.5,298.8 135.5,300.4 137.5,302.4 138.5,300.4 139.0,298.1 139.4,296.7 139.9,294.3 140.2,292.6 140.4,291.3 140.7,289.3 140.9,287.8 141.2,286.2 141.4,284.2 141.5,282.6 141.7,281.1 141.8,279.7 142.0,278.1 142.1,276.6 142.2,275.3 142.4,273.0 142.5,271.8 142.6,270.0 142.6,268.1 142.7,266.5 142.7,264.5 142.7,262.8 142.8,261.2 142.8,259.6 142.9,257.6 143.0,256.0 143.1,254.1 143.2,252.7 143.3,250.7 143.9,248.5 144.5,246.3 145.7,244.8 146.9,243.3 148.4,242.1 149.8,240.4 152.2,238.9 152.8,237.5 153.4,235.9 153.5,234.2 153.7,232.5 153.8,230.8 153.9,229.4 154.0,227.6 154.2,225.9 154.3,224.1 154.4,222.6 154.5,220.7 154.6,219.3 154.7,217.2 154.7,216.1 154.8,214.3 154.9,212.6 155.0,211.1 155.1,209.3 155.3,207.4 155.5,205.5 155.7,203.9 155.9,201.8 156.1,199.9 156.2,197.8 156.3,196.2 156.5,193.9 156.6,192.6 156.7,190.4 156.8,188.5 157.0,186.6 157.1,185.2 157.3,183.3 157.4,181.0 157.7,179.3 157.9,177.8 158.2,176.2 158.4,174.3 159.1,172.6 159.7,170.2 161.5,168.2 163.5,166.8 165.5,167.8 167.5,168.6 170.2,168.9 171.6,167.5 172.9,168.2 174.3,168.9 175.6,166.8 177.0,164.8 179.0,162.8 180.3,163.5 181.7,162.1 183.0,159.4 184.4,158.4 185.7,160.8 186.7,163.5 187.2,165.5 187.7,167.5 187.9,169.2 188.1,171.1 188.2,172.7 188.4,174.3 188.6,176.1 188.8,177.8 188.9,179.1 189.1,181.0 189.2,182.4 189.4,183.7 189.5,185.8 189.7,187.7 189.8,189.1 190.0,190.7 190.1,192.9 190.3,194.6 190.4,196.2 190.6,198.0 190.7,199.6 190.8,201.2 190.9,202.7 191.0,204.4 191.0,206.0 191.1,207.8 191.2,209.4 191.3,210.7 191.4,212.5 191.5,214.4 191.6,215.9 191.7,217.8 191.8,219.6 191.9,221.3 192.0,223.0 192.1,224.9 192.2,226.6 192.4,228.2 192.5,230.0 192.7,231.8 192.9,233.8 193.0,235.3 193.2,237.1 193.6,239.5 194.1,241.2 194.5,243.2 195.2,244.1 195.9,246.2 197.3,245.9 198.7,246.8 199.3,248.5 199.9,250.3 201.7,252.5 203.4,250.8 204.3,249.5 205.2,247.6 205.6,245.9 206.0,244.0 206.4,242.4 206.6,240.5 206.7,239.2 206.9,237.3 207.0,235.5 207.2,233.7 207.3,232.1 207.5,230.1 207.6,228.5 207.7,226.4 207.8,225.0 207.8,223.1 207.9,221.3 208.0,219.8 208.1,217.9 208.2,216.1 208.3,213.9 208.3,213.2 208.4,211.5 208.4,209.6 208.5,208.0 208.6,206.5 208.6,204.6 208.7,203.3 208.7,201.6 208.8,200.0 208.8,198.3 208.9,196.5 208.9,194.9 209.0,193.6 209.0,191.9 209.1,190.1 209.1,188.3 209.2,186.5 209.2,185.1 209.3,183.7 209.3,181.3 209.4,180.2 209.4,177.9 209.5,176.6 209.5,175.0 209.5,173.4 209.6,171.4 209.6,169.7 209.7,168.4 209.7,166.8 209.7,164.9 209.8,163.6 209.8,161.5 209.8,160.4 209.9,158.4 209.9,156.7 210.0,155.1 210.0,153.4 210.0,152.0 210.1,150.4 210.1,148.4 210.2,146.6 210.2,145.0 210.2,143.1 210.3,141.6 210.3,140.1 210.4,138.4 210.4,136.8 210.5,135.1 210.5,133.6 210.5,131.6 210.6,130.0 210.6,128.8 210.7,127.1 210.7,125.2 210.8,123.9 210.8,122.0 210.9,120.2 211.1,118.6 211.2,116.6 211.3,115.5 211.5,113.7 211.6,112.0 211.9,110.5 212.3,108.8 212.6,107.0 213.4,105.3 214.2,103.5 215.6,101.8 217.0,100.1 219.1,99.2 221.2,97.8 223.1,97.3 225.0,96.8 226.9,96.4 228.5,96.3 230.2,96.3 231.8,96.2 233.5,96.3 235.1,95.8 236.7,95.9 238.4,96.2 240.0,96.0 241.6,95.7 243.2,95.9 244.8,95.6 246.5,95.8 248.1,95.5 249.7,95.2 251.3,95.1 252.9,95.2 254.5,95.1 256.2,94.9 257.8,94.8 259.4,94.8 261.0,94.6 262.6,95.2 264.2,94.6 265.9,94.7 267.5,94.2 269.1,94.4 270.7,94.2 272.3,94.4 274.0,94.4 275.6,94.6 277.2,94.2 278.8,94.4 280.4,94.4 282.0,94.4 283.6,93.8 285.3,94.0 286.9,93.5 288.5,93.5 290.1,93.4 291.8,93.3 293.4,93.5 295.0,92.8 296.7,92.9 298.3,92.7 299.9,93.0 301.5,92.7 303.1,93.1 304.7,93.2 306.3,92.9 307.9,92.7 309.5,92.8 311.2,92.7 312.8,92.9 314.4,92.2 316.0,92.4 317.6,92.4 319.2,92.0 320.9,91.9 322.5,92.0 324.1,91.9 325.7,91.5 327.3,92.2 329.0,91.8 330.6,91.7 332.2,91.8 333.8,91.9 335.4,91.8 337.1,91.6 338.7,91.1 340.3,91.3 341.9,91.7 343.5,91.9 345.1,92.1 346.8,92.1 348.4,92.5 350.0,92.7 351.6,92.7 353.2,92.4 354.9,92.9 356.5,92.4 358.1,92.8 359.7,92.5 361.3,92.5 363.0,92.6 364.6,92.8 366.2,92.7 367.8,92.4 369.4,92.5 371.1,92.8 372.7,92.2 374.3,92.3 375.9,92.4 377.5,92.0 379.2,92.2 380.8,91.9 382.4,91.9 384.0,92.0 385.6,91.9 387.2,91.6 388.8,92.1 390.4,91.7 392.1,91.7 393.7,91.5 395.3,91.6 396.9,91.6 398.5,91.6 400.1,91.6 401.8,91.7 403.4,91.1 405.0,91.2 406.6,91.5 408.3,91.2 409.9,91.1 411.5,91.5 413.1,92.0 414.7,91.9 416.3,92.2 418.0,92.5 419.6,92.7 421.2,92.6 422.8,92.9 424.5,92.7 426.1,92.2 427.7,92.4 429.3,92.2 430.9,91.9 432.5,92.2 434.2,92.0 435.8,91.7 437.4,91.6 439.0,91.6 440.6,91.3 442.2,91.9 443.9,91.8 445.5,91.8 447.1,91.9 448.7,92.0 450.3,91.7 452.0,91.6 453.6,91.6 455.2,91.4 456.8,91.6 458.4,92.2 460.0,91.8 461.7,91.9 463.3,92.3 464.9,92.2 466.5,91.5 468.1,92.0 469.7,91.9 471.3,91.8 472.9,91.4 474.5,91.6 476.2,91.0 477.8,91.2 479.4,91.1 481.0,91.3 482.6,90.6 484.2,90.8 485.9,91.1 487.5,91.1 489.1,91.1 491.1,91.2 493.0,91.6 495.0,91.7 497.0,92.1 499.0,92.4 500.4,93.5 501.7,95.1 502.4,96.8 503.1,98.5 503.4,99.9 503.6,101.4 503.9,103.0 504.2,105.2 504.3,107.1 504.4,108.5 504.6,110.7 504.7,112.0 504.9,113.3 505.1,115.2 505.3,117.1 505.5,118.7 506.0,120.6 506.5,122.7 507.5,124.5 508.5,126.1 509.9,127.0 511.2,127.9 512.9,127.7 514.5,127.9 516.2,127.4 517.9,127.9 519.6,127.1 521.3,126.8 522.6,126.1 524.0,124.8 525.0,122.9 526.0,120.7 526.4,118.9 526.9,116.5 527.3,114.6 527.5,112.9 527.6,111.0 527.8,109.6 528.0,107.9 528.2,106.2 528.4,104.6 528.5,103.2 528.7,101.2 529.5,99.3 530.3,97.8 531.5,96.2 532.7,94.4 534.4,93.1 536.1,92.4 538.5,92.2 540.8,91.7 542.4,91.6 544.1,91.6 545.8,91.6 547.4,91.6 549.0,91.9 550.6,91.6 552.2,91.5 553.9,91.3 555.5,91.6 557.1,91.6 558.7,91.4 560.3,91.5 562.0,91.6 563.6,91.7 565.2,91.4 566.8,91.6 568.4,91.6 570.0,91.7 571.7,91.0 573.3,91.4 574.9,91.1 576.5,91.6 578.1,91.1 579.7,91.4 581.4,91.1 583.0,91.5 584.6,91.4 586.2,91.6 587.8,91.6 589.4,91.3 591.1,91.3 592.7,91.3 594.3,91.2 595.9,91.2 597.5,91.2 599.2,91.0 600.8,91.1 602.4,91.1 604.0,91.1 605.6,90.5 607.2,91.0 608.8,90.7 610.5,90.6 612.1,90.5 613.7,90.5 615.3,90.5 616.9,90.7 618.5,90.6 620.1,90.3 621.8,90.7 623.4,90.3 625.0,90.5 626.6,90.6 628.3,90.1 629.9,90.3 631.5,90.6 633.1,90.9 634.7,90.5 636.4,90.9 638.0,90.8 639.6,91.0 641.2,91.1 642.8,91.0 644.4,91.0 646.1,91.2 647.7,91.3 649.3,91.1 650.9,91.4 652.5,91.3 654.2,91.2 655.8,90.9 657.4,91.1 659.2,91.5 661.0,91.4 662.8,90.8 664.6,91.0 666.4,91.2 668.2,91.5 670.0,91.4" stroke="#000" stroke-width="1.95" fill="none" stroke-linejoin="round"/><line x1="104.5" y1="326" x2="104.5" y2="340" stroke="#000" stroke-width="1.6" stroke-dasharray="2,2"/><path d="M61.5 56.1V329.3M52 56.1H61.5M52 147.2H61.5M52 238.2H61.5M52 329.3H61.5" stroke="#333" stroke-width="1.2" fill="none"/><path d="M85.0 340H627.9M85.0 340V349.6M175.5 340V349.6M266.0 340V349.6M356.4 340V349.6M446.9 340V349.6M537.4 340V349.6M627.9 340V349.6" stroke="#333" stroke-width="1.2" fill="none"/><text transform="translate(85.0,371.1) scale(1,1.04)" font-family="Liberation Sans, sans-serif" font-size="15.4" text-anchor="middle">0</text><text transform="translate(175.5,371.1) scale(1,1.04)" font-family="Liberation Sans, sans-serif" font-size="15.4" text-anchor="middle">10000</text><text transform="translate(266.0,371.1) scale(1,1.04)" font-family="Liberation Sans, sans-serif" font-size="15.4" text-anchor="middle">20000</text><text transform="translate(356.4,371.1) scale(1,1.04)" font-family="Liberation Sans, sans-serif" font-size="15.4" text-anchor="middle">30000</text><text transform="translate(446.9,371.1) scale(1,1.04)" font-family="Liberation Sans, sans-serif" font-size="15.4" text-anchor="middle">40000</text><text transform="translate(537.4,371.1) scale(1,1.04)" font-family="Liberation Sans, sans-serif" font-size="15.4" text-anchor="middle">50000</text><text transform="translate(627.9,371.1) scale(1,1.04)" font-family="Liberation Sans, sans-serif" font-size="15.4" text-anchor="middle">60000</text><text transform="translate(43.7,329.3) rotate(-90) scale(1,1.04)" font-family="Liberation Sans, sans-serif" font-size="15.4" text-anchor="middle">0.7</text><text transform="translate(43.7,238.2) rotate(-90) scale(1,1.04)" font-family="Liberation Sans, sans-serif" font-size="15.4" text-anchor="middle">0.8</text><text transform="translate(43.7,147.2) rotate(-90) scale(1,1.04)" font-family="Liberation Sans, sans-serif" font-size="15.4" text-anchor="middle">0.9</text><text transform="translate(43.7,56.1) rotate(-90) scale(1,1.04)" font-family="Liberation Sans, sans-serif" font-size="15.4" text-anchor="middle">1.0</text><text transform="translate(13.8,191.2) rotate(-90) scale(1,1.04)" font-family="Liberation Sans, sans-serif" font-size="18.8" text-anchor="middle">Accuracy</text><text transform="translate(376.9,14.1) scale(1,1.04)" font-family="Liberation Sans, sans-serif" font-size="18.8" font-weight="bold" text-anchor="middle">All sequenced</text><rect x="489.5" y="260.7" width="11" height="9.6" fill="#58702f" stroke="#000" stroke-width="1"/><text transform="translate(515,271.1) scale(1,1.04)" font-family="Liberation Sans, sans-serif" font-size="15.4">Focal</text><rect x="489.5" y="279.3" width="11" height="9.6" fill="#03039a" stroke="#000" stroke-width="1"/><text transform="translate(515,289.7) scale(1,1.04)" font-family="Liberation Sans, sans-serif" font-size="15.4">Focal and top sires</text><rect x="489.5" y="297.9" width="11" height="9.6" fill="#900202" stroke="#000" stroke-width="1"/><text transform="translate(515,308.3) scale(1,1.04)" font-family="Liberation Sans, sans-serif" font-size="15.4">All sequenced</text><rect x="489.5" y="316.5" width="11" height="9.6" fill="#000" stroke="#000" stroke-width="1"/><text transform="translate(515,326.9) scale(1,1.04)" font-family="Liberation Sans, sans-serif" font-size="15.4">findhap w/ all sequenced</text></svg></body></html>
